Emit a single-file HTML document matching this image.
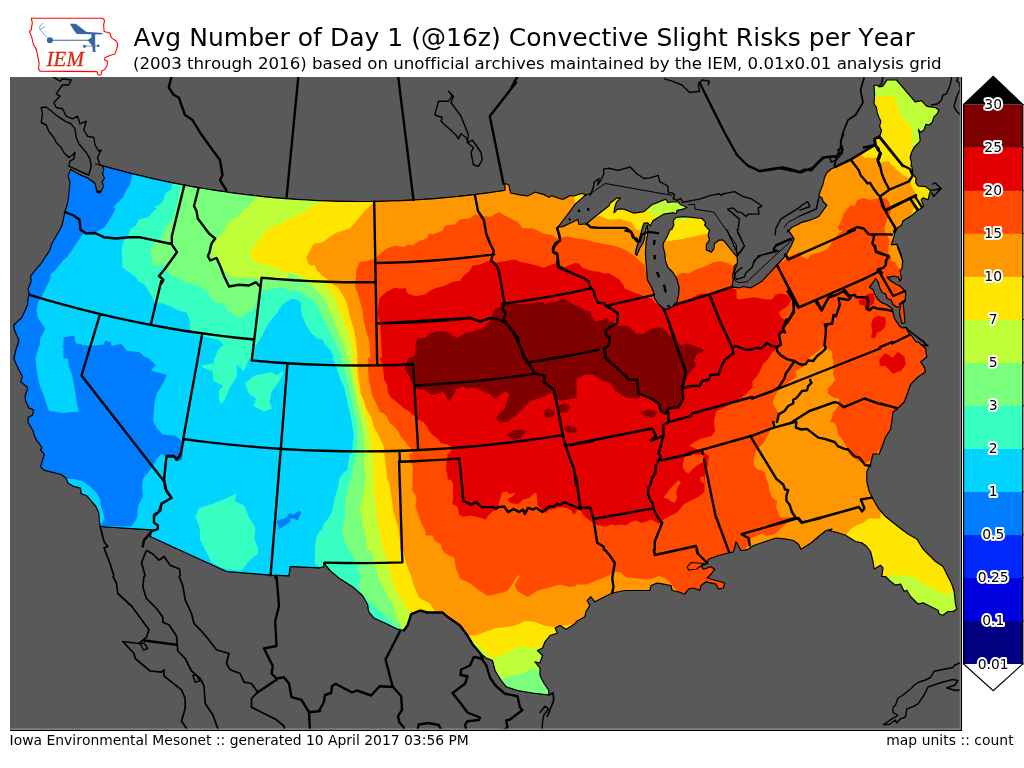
<!DOCTYPE html>
<html lang="en">
<head>
<meta charset="utf-8">
<title>Avg Number of Day 1 (@16z) Convective Slight Risks per Year</title>
<style>
html,body{margin:0;padding:0;background:#fff;}
body{width:1024px;height:768px;overflow:hidden;position:relative;font-family:"DejaVu Sans","Liberation Sans",sans-serif;}
svg{position:absolute;left:0;top:0;display:block;}
text{font-family:"DejaVu Sans","Liberation Sans",sans-serif;fill:#000;font-kerning:none;font-variant-ligatures:none;}
.title{font-size:25px;}
.sub{font-size:16.67px;}
.foot{font-size:13.89px;}
.cbl{font-size:13.89px;text-anchor:middle;paint-order:stroke;stroke:#fff;stroke-width:4px;stroke-linejoin:round;}
.iem{font-family:"Liberation Serif","DejaVu Serif",serif;font-style:italic;font-size:21px;fill:#d62a14;stroke:#d62a14;stroke-width:0.3px;}
.n{fill:none;stroke:#000;stroke-width:1;stroke-linejoin:round;}
.d{fill:none;stroke:#000;stroke-width:2.4;stroke-linecap:butt;}
.b{fill:none;stroke:#000;stroke-width:2.4;stroke-linejoin:round;stroke-linecap:round;}
.c{fill:none;stroke:#000;stroke-width:1.4;stroke-linejoin:round;stroke-linecap:round;}
.m{fill:none;stroke:#000;stroke-width:1.7;stroke-linejoin:round;}
.t{fill:none;stroke:#000;stroke-width:1.1;stroke-linejoin:round;}
.us{fill:none;stroke:#000;stroke-width:1.2;stroke-linejoin:round;}
.lake{fill:#595959;stroke:#000;stroke-width:1;stroke-linejoin:round;}
</style>
</head>
<body>
<svg width="1024" height="768" viewBox="0 0 1024 768">
<rect x="0" y="0" width="1024" height="768" fill="#fff"/>

<defs><clipPath id="axclip"><rect x="10" y="76.9" width="950.6" height="652.6"/></clipPath>
<clipPath id="out"><path clip-rule="evenodd" d="M0 60 H1030 V740 H0 Z M102.8 165.8 L112.7 168.6 L122.7 171.2 L132.7 173.8 L142.8 176.2 L152.9 178.6 L163 180.8 L173.1 182.9 L183.3 184.9 L193.5 186.8 L203.8 188.5 L214 190.2 L224.3 191.7 L234.6 193.2 L244.9 194.5 L255.2 195.7 L265.6 196.8 L276 197.8 L286.3 198.6 L296.7 199.4 L307.1 200 L317.5 200.6 L328 201 L338.4 201.3 L348.8 201.4 L359.2 201.5 L369.7 201.5 L380.1 201.3 L390.5 201 L400.9 200.6 L411.3 200.1 L421.7 199.5 L432.1 198.8 L442.5 197.9 L452.9 197 L463.2 195.9 L473.6 194.7 L483.9 193.4 L494.2 192 L504.5 190.5 L505 189.8 L505 183.5 L508.8 184.8 L510.5 193 L520 194.8 L527.5 196 L535 192.2 L545 194.8 L544 194.8 L549 197.2 L551.5 195.8 L560.2 198.8 L564 199.1 L570.2 195.4 L574 196 L581.5 193.5 L585.9 194.8 L575.2 204.1 L566.5 216 L557.8 227.2 L562.8 226.6 L577.8 219.5 L579 224.5 L586.5 223.8 L594 217.5 L609 205.8 L610.2 202.9 L616.5 198.2 L620.5 198.2 L616.5 202.2 L614.6 207.9 L614 212.9 L617.8 208.8 L624 209.1 L634 213.2 L644 211.6 L651.5 205 L665.9 199.1 L667.8 202.5 L672 202 L672 202 L678.2 202 L680.8 204.8 L687 207.2 L683.2 209.1 L677 210.4 L676.4 213.5 L672 212.5 L672 212.9 L664 214.1 L656.5 218.5 L652.8 221 L650.2 226 L647.8 222.9 L644 223.2 L642.1 228.5 L640.2 237.2 L637.1 246 L635.2 253.5 L636.8 255.4 L639.6 248.5 L642.8 243.5 L644.6 237.9 L645.5 231 L647.2 225.4 L648 232.2 L646.2 241 L645.5 251 L645.5 255 L646.1 263.8 L646.8 271.2 L647.4 280 L651.1 286.2 L653.6 292.5 L654.9 298.8 L658 303.8 L663.6 308.8 L668 309.4 L673 306.2 L676.8 302.5 L678.6 295 L679.2 287.5 L676.8 278.8 L673 272.5 L668 267.5 L665.5 261.2 L664.9 253.8 L663 246.2 L663.6 242.5 L666.8 237.5 L669.9 230 L672 229.1 L673.9 224.8 L673.2 221 L675.8 217.5 L675.8 217.5 L684.5 216.6 L702 218.5 L705.8 222.9 L704.5 224.8 L708.9 229.8 L709.5 230 L708.2 235 L709.5 240 L706.4 244.4 L706.4 250 L711.4 252.2 L713.9 248.8 L714.5 243.8 L719.5 239.8 L723.2 240.2 L728.2 246.2 L733.2 252.5 L737 256.9 L737.6 263.1 L734.5 265.6 L733.9 271.2 L732.6 275 L733.2 280 L732 286.9 L732 286.9 L739.5 287.8 L743.2 286.5 L750.8 287.8 L762 281.2 L769.5 273.1 L777 265 L784.5 256.9 L786 255 L791 246.2 L794.1 238.8 L791 233.8 L787.9 230 L787.6 232.2 L792 227.2 L800 223.5 L800 222.8 L810 220.2 L818.8 216.5 L826.9 205.2 L823.1 201.5 L821.9 197.8 L818.8 195.9 L820.6 190.2 L823.1 184 L824.4 177.8 L826.9 172.8 L831.2 169 L835 167.1 L850.6 159.6 L875 145 L874.4 139.6 L876.2 137.8 L880 136.5 L875.9 138.1 L880.2 135 L881.5 130.6 L879.6 126.2 L880.9 121.2 L879 117.5 L877.1 112.5 L876.5 107.5 L874 103.8 L874.6 95 L874 85.6 L876.5 85 L879.6 86.9 L882.8 86.2 L887.1 80 L896.5 80 L915.2 101.9 L921.5 100.6 L926.5 106.2 L930.2 106.9 L935.2 107.5 L939 110 L937.1 113.8 L934 116.9 L932.1 122.5 L929 125 L925.9 124.4 L924 130 L920.2 132.5 L918.4 129.4 L919.6 135 L920.2 141.2 L916.5 145 L914 147.5 L911.5 152.5 L910.2 157.5 L911.5 162.5 L910.9 166 L911.8 166 L913 174.8 L916.1 177.9 L915.5 182.2 L918 186 L925.5 186.6 L930.5 190.4 L929.2 194.8 L928 199.8 L923 197.9 L921.1 199.8 L923.6 206 L919.9 209.1 L916.8 211 L911.8 215.4 L906.8 218.5 L903 221 L901.8 224.8 L896.8 228.5 L894.9 232.2 L894.2 236 L893 239.8 L891.1 244.8 L896.8 244.1 L898 248.5 L900.5 254.8 L903 262 L897.6 246 L900.8 253.5 L902.6 261 L902 268.5 L900.1 271 L901.4 278.5 L900.1 281.2 L898.2 277 L894.5 276 L889.5 277.2 L887 277 L890.8 281 L895.8 284.1 L900.1 286 L903.2 289.1 L905.8 293.5 L905.1 299.8 L903.2 303.5 L903.9 311 L904.5 317.2 L905.1 322.5 L902 323.5 L900.1 316 L899.5 311 L900.8 306 L897 307.2 L893.2 304.8 L890.8 299.8 L887 298.5 L885.8 294.1 L882 292.2 L879.5 287.2 L878.2 282.2 L875.8 278.5 L873.2 282.2 L869.5 287.2 L873.2 289.8 L875.1 294.8 L878.2 299.8 L882 302.9 L887 304.8 L892 308.5 L893.2 313.5 L894.5 318.5 L897 322.2 L899.5 326 L902 327.9 L905.8 327.5 L908.2 332.2 L912 336 L915.8 342 L918 342 L925.5 348.2 L926.8 357 L920.5 362 L924.2 367 L925.5 372 L918 377 L910.5 384.5 L908 392 L904.2 402 L898 408.2 L893 412 L891.8 422 L890.5 429.5 L885.5 437 L883 444.5 L879.2 454 L873 454 L870.5 464 L866.8 471.5 L866.8 481.5 L869.2 491.5 L873 499 L878 507.8 L885.5 516.5 L898 526.5 L908 534 L916.8 539 L923 549 L935.5 561.5 L943 566.5 L948 576.5 L951.8 584 L954.2 591.5 L955.5 604 L956.8 609 L953 611.5 L948 611.5 L943 615.2 L939.2 614 L938 610.2 L930.5 606.5 L923 602.8 L918 604 L910.5 596.5 L906.8 590.2 L904.2 591.5 L900.5 584 L895.5 585.2 L890.5 581.5 L885.5 576.5 L881.8 576.5 L883 567.8 L880.5 565.2 L874.2 569 L873 561.5 L870.5 551.5 L866.8 546.5 L861.8 542.8 L855.5 541.5 L845.5 535.2 L838 532.8 L828 530.2 L832 529.2 L826 530.5 L819.8 535.5 L811 543 L801 549.2 L798.5 544.2 L793.5 540.5 L786 539.2 L776 538 L768.5 540.5 L761 543 L753.5 545.5 L748.5 549.2 L743.5 550.5 L741 550.5 L736 541.8 L733.5 551.8 L728.5 553 L718.5 555.5 L708.5 559.2 L706 564.2 L701 565.5 L703.5 569.2 L711 566.8 L714.8 569.2 L711 574.2 L707.2 578 L716 580.5 L724.8 583 L723.5 588 L718.5 589.2 L716 584.2 L706 581.8 L701 585.5 L699.8 590.5 L693.5 588 L688.5 589.2 L684.8 594.2 L678.5 591.8 L672.2 590.5 L671 585.5 L663.5 584.2 L657.2 583 L651 585.5 L649.8 590.5 L624.8 590.5 L612.2 593 L602.2 598 L594.8 601.8 L591 596.8 L587.2 600.5 L589.8 605.5 L586 611.8 L584.8 616.8 L576 621.8 L576 623 L566.2 629.2 L560 625.5 L555 628 L557.5 633 L550 635.5 L545 641.8 L542.5 648 L537.5 650.5 L542.5 655.5 L540 663 L535 661.8 L540 668 L540 675.5 L543.8 683 L548.8 690.5 L548.8 695 L548.8 695 L532.5 693 L517.5 690.5 L506.2 686.8 L501.2 680.5 L495 670.5 L492.5 660.5 L486.2 658 L480 653 L472.5 644.2 L467.5 635.5 L460 625.5 L447.5 616.8 L442.5 612.5 L427.5 612.5 L420 610.5 L411.2 614.2 L407.5 625.5 L403.8 630.5 L397.5 629.2 L385 623 L373.8 618 L368.8 611.8 L367.5 604.2 L362.5 595.5 L352.5 586.8 L338.8 578 L330 570.5 L323.8 563 L323.8 566.8 L320 567.5 L320 567.8 L290.2 566.5 L289 575.8 L271.5 575.2 L226.5 571.5 L150.2 536.5 L151.5 531.5 L155.2 530.2 L100.2 526.5 L100 526.4 L99.4 520.8 L98.8 513.2 L96.2 507 L91.2 500.8 L86.9 495.8 L81.2 493.9 L80.6 488.2 L73.8 486.4 L68.1 483.2 L66.2 478.2 L61.2 474.5 L43.8 470.1 L40.6 466.4 L44.4 454.5 L40.6 450.1 L41.9 447.6 L38.1 442 L37.5 442 L34.4 436 L33.1 431 L28.1 422.2 L28.1 417.2 L32.5 415.4 L33.5 409.8 L28.8 407.9 L25.6 401 L25 396 L26.9 391 L27.5 387.2 L20.6 381.6 L22.5 376.6 L18.8 369.8 L13.8 358.5 L16.9 346 L17.5 346 L18.8 340 L14.4 330 L13.8 325 L21.9 317.5 L27.5 305 L28.1 297.5 L29.4 294.4 L28.1 288.8 L31.2 281.2 L30.6 276.2 L37.5 267.5 L40 265 L50 250 L51.2 244.8 L61.2 227.2 L62.5 223.5 L65 211.6 L67.5 203.5 L68.5 197.2 L70 182.2 L68.1 176 L70.6 169.1 L75 172.2 L81.2 175.4 L87.5 177.9 L91.9 181 L95 183.5 L96.2 188.5 L96.9 192.2 L100 192.9 L101.9 189.8 L103.8 186 L101.9 182.2 L104.4 178.5 L102.5 173.5 L103.8 169.8 L103.1 166.6Z"/></clipPath>
</defs>
<g id="map" clip-path="url(#axclip)">
<rect x="10" y="76.9" width="950.6" height="652.6" fill="#595959"/>
<g>
<rect x="10.2" y="76.8" width="950.3" height="652.8" fill="#00d4ff"/>
<path fill="#007cff" fill-rule="evenodd" d="M286.7 517.4 L276.4 521.3 L278.8 529 L279.7 529 L290.3 521.9 L290.5 521.2 L289.9 518.6 L295.4 518.6 L295.6 519.9 L296.3 520.3 L298.7 518.9 L299 518.2 L298.7 517.6 L301.6 512.2 L299 510.7 L293.9 514.4 L289 513.3Z M101.6 525.9 L131.8 526.6 L136.9 518.1 L138.1 506.1 L143.1 496.1 L141.9 486 L143.1 478.6 L153 466.2 L156.8 458.7 L161.6 453.9 L166.4 456.3 L173.8 456.4 L176.1 460.9 L176.8 461.3 L181.8 459.8 L183.1 450.9 L181.6 440.7 L175.3 435.7 L162.9 434.4 L156.8 428.3 L153.1 420.9 L154.3 403.6 L156.8 393.6 L163.1 383.6 L166.6 375.4 L166.6 374.7 L150.9 370.8 L155.3 365.3 L155.2 364.2 L147.4 357.6 L145.6 357.4 L139.1 352 L126.7 350.7 L121.5 343.7 L111.7 346.1 L110.4 342 L105.5 340.7 L104.8 341.2 L103.7 344.4 L89 346.1 L75.6 343.2 L74.4 336.3 L73.9 335.8 L63.6 337.2 L63.4 345.4 L62.3 345.8 L63.4 348.3 L63.4 358 L64.1 358.6 L68 358.6 L68.7 366.1 L72.4 376.1 L78.6 411.9 L71.4 411.9 L64.6 412.9 L64.2 412.6 L62.5 413.1 L49 410.7 L46.6 404.6 L44.1 395.9 L40.3 387.1 L37.8 377.2 L35.4 358.5 L38.8 346.6 L39.7 346 L40.3 337.6 L42.8 333.9 L45.3 328.8 L37.8 317.4 L36.6 310 L37.8 302.6 L42.2 295.8 L50.3 278.9 L50.4 273.9 L55.3 270.2 L63.8 259.6 L64.7 259.5 L67.8 256.2 L82.7 234.3 L91.6 233.8 L97.6 231.3 L104.2 227.5 L108 222.5 L115.4 209.4 L115.2 208.6 L113.3 207.2 L116.8 203.2 L123 197.5 L125.6 191.2 L129.8 184.9 L132.3 174.8 L132.3 167.5 L124.1 165.4 L96.8 165.4 L97.6 169.4 L96.5 173.9 L97.6 177.9 L90.4 172.6 L83.7 169.9 L78.1 167.1 L75.7 165.4 L65.9 165.4 L62.2 175 L62.2 177.2 L63.9 182.8 L62.5 196.5 L61.6 202.1 L59.3 209.9 L55.7 224.8 L45.8 242.3 L44.4 247.6 L35.3 261.2 L32.8 263.8 L25.3 273.5 L24.6 275.8 L25.1 280.4 L22.1 288.2 L23.1 293.9 L22.2 296.4 L21.6 303.5 L16.9 313.9 L9.3 321 L7.9 323.5 L7.8 325.2 L8.5 331.3 L12.5 340.7 L11.1 344.5 L7.9 357 L7.8 359.3 L13.3 372.2 L15.9 377.1 L14.6 381.2 L15.1 384 L16.4 385.9 L21 389.7 L19 395.6 L19.7 401.7 L23.3 410.4 L24.7 412.3 L23.1 413.9 L22.2 416.1 L22.4 424.1 L27.5 433.3 L28.8 438.1 L32.2 444.8 L35 448.1 L34.6 450.3 L34.9 452 L37.6 455.9 L34.8 465.1 L34.7 467.5 L35.3 469.2 L39.6 474.4 L41.7 475.8 L56.1 479.4 L66.9 478.6 L74.9 479.2 L82.4 481.1 L89.8 486 L97.2 493.5 L100.4 499.8 L100.4 504.6 L104.6 517.5 L101.6 524.6 L101.2 524.2 L94 526.8 L94.3 528.2 L95.4 530.3 L96.8 531.4 L98.7 532.3 L101.6 532.6Z"/>
<path fill="#36ffc1" fill-rule="evenodd" d="M123.8 240.7 L121.7 248.5 L122.5 267.4 L135 276.3 L138.8 281.3 L145 285 L155 302.4 L163.9 303.8 L171.4 306.8 L177.6 310.1 L186.3 312.5 L189.2 318.6 L189.9 328.1 L191.8 333.2 L218.8 340.1 L223.5 344.8 L217.4 350.9 L215.2 357.4 L214.2 358 L213.7 363.2 L201.7 365.4 L201.1 366.1 L201.6 366.9 L212.4 371.2 L213.8 381.2 L223.4 386.1 L218.7 391 L219.8 402.8 L220.4 403.5 L224.3 401.1 L229.3 388.7 L236.8 376.2 L236.8 364.3 L243.3 370.8 L244.1 371 L249.3 358.6 L254.7 358.3 L254.4 348.6 L261.8 336.2 L266.8 326.2 L271.8 318.7 L276.8 313.7 L281.8 305 L288.6 300.6 L293 298.6 L297.8 299.8 L301.4 303.4 L300.8 309.5 L302 315.8 L306.5 325.9 L311.6 333.6 L317.8 338.5 L322.8 339.8 L325.2 344.7 L330.2 349.7 L333.5 357.4 L332.8 357.7 L332.6 358.5 L335.9 365.6 L340.3 379.4 L344 386.9 L351.5 420.6 L354 435.5 L352.8 443 L352.2 453.4 L350.7 453.4 L350.1 454 L348.4 461.5 L347.8 470.1 L342.3 473.8 L339.1 478.8 L338.4 486.4 L334.7 497.6 L332.8 507.7 L330.9 513.9 L327.2 520 L323.5 523.8 L322.2 530 L319.6 530.6 L319.4 531.7 L316.2 536.5 L314.9 549 L314.9 563.8 L315.3 564.4 L319.4 566 L319.4 573.7 L324.1 572.8 L326.1 575.1 L334.8 582.6 L348.9 591.6 L357.8 599.4 L361.8 606.3 L363.4 614.5 L369.9 622.6 L395.3 634.8 L403.2 636.5 L405 636.4 L407.2 635.4 L412.7 628.6 L416.1 618.7 L420.5 616.8 L427 618.5 L440.3 618.5 L444.1 621.7 L455.8 629.9 L462.5 638.8 L467.6 647.7 L475.4 656.9 L483 663 L487.4 664.9 L489.9 673.7 L496.6 684.2 L501.9 690.9 L503.8 692.2 L516.1 696.3 L531.8 699 L548.6 701 L551 700.6 L552.9 699.3 L554.6 696.2 L554.6 689.3 L553.7 687.2 L548.9 680 L546 674.1 L546 667.4 L545.4 665.5 L548.5 656.2 L548.3 653.8 L547.2 651.7 L550.2 644.8 L553.6 640.6 L561 637.9 L562.3 636.6 L563.3 634.5 L566 635.2 L569 634.6 L579.7 627.7 L581.4 625.6 L588.7 621.3 L590.4 618.8 L591.6 614.1 L595.3 607.7 L597.4 607.1 L614.2 598.7 L625.3 596.5 L651.4 596.3 L654.3 594.4 L655.4 592.5 L656.1 589.9 L657.8 589.2 L666.1 590.8 L667.1 593.7 L669.3 595.8 L676.8 597.5 L684.3 600.2 L686.7 599.9 L688.3 599.1 L692 594.6 L693.1 594.3 L698.7 596.4 L701.1 596.4 L702.7 595.7 L704.9 593.6 L706.3 589 L707.3 588.3 L711.9 589.4 L713.7 592.9 L716.5 594.9 L719.4 595.2 L725.5 593.7 L727.5 592.4 L729.2 590 L730.7 583.9 L730.4 581 L729.3 579.1 L727.5 577.7 L718.1 574.8 L720.4 571.3 L720.6 568 L719.4 565.4 L716 562.9 L720.3 561.2 L735.5 557.4 L738 555.7 L740.4 556.5 L744.2 556.5 L750.5 554.9 L756.3 550.9 L776.6 544.1 L791.1 546.2 L793.8 548.2 L795.9 552.4 L797.1 553.8 L799.1 554.9 L801.4 555.2 L804.2 554.3 L814.6 547.8 L828.1 536.5 L842.9 540.7 L852.8 546.9 L859.2 548.4 L862.5 550.8 L865 554.1 L867.1 562.7 L868.5 570.6 L869.9 573.1 L872.8 574.8 L875.9 574.8 L876.1 578.6 L878.3 581.4 L880.5 582.4 L883 582.5 L886.9 586.3 L892.9 590.7 L895.2 591.2 L897.3 591 L899.9 595.6 L901.8 597 L904.1 597.5 L906.3 600.7 L914.7 609 L918.2 610 L922.3 609.1 L933.1 614.5 L934.4 617.5 L936.2 619.2 L942.8 621.2 L945.6 620.7 L950 617.5 L953.6 617.5 L955.8 616.8 L960.5 613.7 L962.2 611.4 L962.7 608.1 L961.4 603 L959.9 589.6 L957.1 581.3 L948.1 563.3 L946.3 561.5 L939.3 556.8 L927.7 545.2 L920.7 534.5 L911.3 529 L889.7 512.2 L882.9 504.3 L878.3 496.2 L874.9 489.4 L872.8 480.8 L872.8 472.9 L876.1 466.1 L877.7 460 L881.6 459.5 L884.3 457.3 L890.9 439.7 L896.1 431.7 L898.6 415.3 L902.2 412.5 L909.3 405.2 L915.7 387.7 L921.8 381.7 L929.3 376.7 L931 374.4 L931.4 371.1 L929.9 365 L928.8 363.1 L931.7 360.5 L932.7 357.3 L931.4 347.4 L930.6 345.1 L921.8 337.4 L919.1 336.1 L916.7 332.3 L913.1 328.7 L910.8 324.3 L911.1 321.8 L909.4 304.7 L911 300.9 L911.7 292.9 L911.2 291.1 L908.5 286.1 L905.8 283.2 L907.3 279.3 L906.5 272.5 L907.9 269.6 L908.6 260.2 L906.4 251.6 L903.2 243.7 L901.4 240.4 L899.6 238.9 L900.6 234.1 L901.5 232.5 L906.2 228.7 L908 224.9 L915.3 220.2 L920.3 215.9 L923.3 214 L927.5 210.6 L929.2 208.3 L929.6 205.5 L932 204.2 L933.6 201.8 L936.4 191.4 L936.2 188.5 L934.6 186 L928.6 181.5 L926.6 180.7 L921.8 180.3 L922.1 177.5 L921.7 175.7 L918.7 171.9 L917.4 163.9 L917.4 161.7 L916.4 157.5 L917.2 154.6 L918.9 151.1 L924.5 145.5 L925.8 143.5 L926.2 141.2 L925.8 136 L928.6 133.9 L930 130.9 L932.3 130 L937 125.9 L939.2 120.1 L942.2 117 L944.4 112.7 L945 109.3 L944.5 107.6 L943.2 105.7 L938.1 102.2 L929.6 100.7 L925.6 96.2 L923.7 95 L921.5 94.6 L917.5 95.3 L901.1 76.1 L898.7 74.4 L896.5 74 L885.4 74.2 L883 75.7 L879.8 80 L878 79.2 L875.6 79.1 L871.4 80.2 L869.2 82.1 L868 85.4 L868.6 95 L868 104.5 L868.7 106.6 L870.7 109.6 L871.3 113.9 L874.5 121.9 L873.6 126.5 L875.1 131.3 L872.4 133.1 L869.4 136.3 L868.5 138.5 L868.6 141.8 L847.8 154.3 L827.9 164 L822.1 169.1 L818.8 175.6 L817.3 182.3 L812.8 195.1 L812.8 196.8 L813.6 199 L814.7 200.3 L816.9 201.8 L817.9 204.4 L819 205.9 L814.9 211.6 L808.1 214.5 L797.5 217.3 L795.2 219.1 L788.9 222.1 L787.5 223.3 L783.5 228 L782.7 230.9 L783.4 233.8 L787.4 239.3 L785.6 243.6 L781 251.6 L758.2 276.5 L749.6 281.5 L743.1 280.5 L739.1 281.6 L738.7 275.6 L739.7 272.5 L740.2 268.8 L742.6 266.5 L743.6 263.7 L742.9 255.7 L741.6 253 L726.6 235.3 L724.6 234.4 L719.1 233.8 L716.8 234.4 L714.7 235.9 L714.4 235 L715.5 230.3 L715.2 228.1 L714 226.1 L711.7 223.8 L711.6 221.6 L710.7 219.4 L706.6 214.6 L704.8 213.2 L703.2 212.6 L691.4 211.3 L692.5 209.6 L693 207.9 L692.9 206.1 L692 203.9 L689.8 201.9 L684.3 199.7 L680.7 196.5 L678.2 196 L671 196.1 L669.6 194.4 L668.1 193.6 L664.7 193.2 L648.6 199.7 L641.3 206 L634.7 207.1 L626.3 203.6 L624.1 203.1 L625.8 201.1 L626.5 198.2 L626 196 L624.3 193.6 L621.1 192.3 L615.2 192.4 L612.9 193.4 L606.7 198.1 L605.4 199.4 L604.1 202 L583.6 218 L582.2 215.5 L580.3 214.1 L578 213.5 L575.5 214 L579.7 208.2 L589.8 199.2 L591.3 197.4 L591.9 195.2 L591.6 192.9 L590.4 190.8 L588.6 189.4 L583.1 187.7 L580.8 187.5 L573.5 189.8 L570.6 189.4 L568.3 189.7 L562.6 193 L552.9 189.9 L551.2 189.8 L549 190.3 L546.5 188.9 L535.3 186.3 L532.9 186.6 L526.6 189.8 L515.5 187.8 L514.5 183 L513 180.5 L510.6 179.1 L505.1 177.5 L502.3 178.2 L500.4 179.6 L499.1 182.3 L499 185.2 L472.9 188.8 L442 192 L411 194.1 L380 195.3 L359.2 195.5 L317.8 194.6 L297.1 193.4 L266.2 190.8 L245.6 188.5 L214.9 184.3 L172.4 176.6 L172.4 183.5 L171.2 189.5 L165.8 193.3 L163.7 199.6 L160 204.5 L155.4 206.2 L155.2 207 L156.5 208.9 L151.8 212.7 L148.8 216.9 L138.8 219.6 L136.2 225.8 L130.7 228.8 L127.5 237.1Z M667.4 219.7 L667.7 224 L664.6 227.2 L661.4 234.7 L658.2 239.8 L657 246.5 L658.9 254.7 L659.9 263.5 L663 270.8 L668.2 276.2 L671.2 281.2 L673.2 288.1 L672.7 294 L671.3 299.4 L669.2 301.5 L666.7 303.1 L662.6 299.8 L660.5 296.5 L659.2 290.3 L656.5 283.6 L653.3 278.1 L651.5 251.2 L652.2 241.8 L653.9 233.4 L653.9 230.8 L655.3 229.2 L657.4 225.1 L666 219.9Z M248.9 393.8 L256.1 398.6 L253.8 405.6 L254.1 406.4 L263.9 411.3 L271.3 408.9 L271.7 408 L269.4 401 L271.8 391.2 L279.3 381.2 L283.6 372.7 L283.5 371.9 L282.5 371.6 L276.5 375.6 L271.4 371.9 L253.8 375.8 L245 383.4Z M199.9 529.1 L199.9 539.2 L211.1 561.5 L218.9 566.8 L229 569.8 L241.5 570.5 L250.5 559.3 L258 554.1 L258.1 548.9 L254.4 539 L255.5 527.6 L248.9 517.4 L244.3 505.8 L234.4 500.8 L236.5 494.5 L236 493.7 L226.4 498.2 L213.9 503.2 L198.8 508.3 L195.2 517.8 L195.6 518.5 L196.4 518.6Z"/>
<path fill="#7aff7d" fill-rule="evenodd" d="M151.3 263 L151.8 263.9 L158.9 265.8 L163.8 265.1 L171.4 276.8 L178.8 277.6 L183.9 282.5 L191.4 283.8 L198.9 286.3 L206.2 290 L211.3 298.8 L216.4 302.6 L223.8 303.8 L228.8 311.3 L240 318.7 L240.7 318.4 L244.2 313.8 L251.8 311.1 L255.6 304.9 L261.7 291.3 L271.6 288.8 L281.5 287.6 L287.4 289.1 L287.5 290.4 L288.2 290.9 L294.2 289.2 L300.3 292.3 L314 301 L318.9 307.2 L320.2 312.2 L323.9 318.4 L327.7 327.2 L331.4 333.4 L333.9 339.7 L337.7 347.1 L341.1 357.4 L340.6 358.4 L345.3 373.1 L349 388.1 L356.5 423 L357.8 439.2 L355.9 453.7 L350.9 478.9 L348.4 486.4 L346.5 494 L345.3 501.4 L344.7 508.9 L345.3 516.5 L343.4 523.9 L342.2 531.5 L343.5 539.2 L357.2 565.6 L360.9 578 L358.5 585.8 L363.5 595.8 L403.5 633.2 L405.9 636.1 L408.2 634.6 L412.7 628.6 L416.1 618.7 L420.5 616.8 L427 618.5 L440.3 618.5 L444.1 621.7 L455.8 629.9 L462.5 638.8 L467.6 647.7 L475.4 656.9 L483 663 L487.4 664.9 L489.9 673.7 L496.6 684.2 L501.9 690.9 L503.8 692.2 L516.1 696.3 L531.8 699 L548.6 701 L551 700.6 L552.9 699.3 L554.6 696.2 L554.6 689.3 L553.7 687.2 L548.9 680 L546 674.1 L546 667.4 L545.4 665.5 L548.5 656.2 L548.3 653.8 L547.2 651.7 L550.2 644.8 L553.6 640.6 L561 637.9 L562.3 636.6 L563.3 634.5 L566 635.2 L569 634.6 L579.7 627.7 L581.4 625.6 L588.7 621.3 L590.4 618.8 L591.6 614.1 L595.3 607.7 L597.4 607.1 L614.2 598.7 L625.3 596.5 L651.4 596.3 L654.3 594.4 L655.4 592.5 L656.1 589.9 L657.8 589.2 L666.1 590.8 L667.1 593.7 L669.3 595.8 L676.8 597.5 L684.3 600.2 L686.7 599.9 L688.3 599.1 L692 594.6 L693.1 594.3 L698.7 596.4 L701.1 596.4 L702.7 595.7 L704.9 593.6 L706.3 589 L707.3 588.3 L711.9 589.4 L713.7 592.9 L716.5 594.9 L719.4 595.2 L725.5 593.7 L727.5 592.4 L729.2 590 L730.7 583.9 L730.4 581 L729.3 579.1 L727.5 577.7 L718.1 574.8 L720.4 571.3 L720.6 568 L719.4 565.4 L716 562.9 L720.3 561.2 L735.5 557.4 L738 555.7 L740.4 556.5 L744.2 556.5 L750.5 554.9 L756.3 550.9 L776.6 544.1 L791.1 546.2 L793.8 548.2 L795.9 552.4 L797.1 553.8 L799.1 554.9 L801.4 555.2 L804.2 554.3 L814.6 547.8 L828.1 536.5 L842.9 540.7 L852.8 546.9 L859.2 548.4 L862.5 550.8 L865 554.1 L867.1 562.7 L868.5 570.6 L869.9 573.1 L872.8 574.8 L875.9 574.8 L876.1 578.6 L878.3 581.4 L880.5 582.4 L883 582.5 L886.9 586.3 L892.9 590.7 L895.2 591.2 L897.3 591 L899.9 595.6 L901.8 597 L904.1 597.5 L906.3 600.7 L914.7 609 L918.2 610 L922.3 609.1 L933.1 614.5 L934.4 617.5 L936.2 619.2 L942.8 621.2 L945.6 620.7 L950 617.5 L953.6 617.5 L955.8 616.8 L960.5 613.7 L962.2 611.4 L962.7 608.1 L961.4 603 L959.9 589.6 L957.1 581.3 L948.1 563.3 L946.3 561.5 L939.3 556.8 L927.7 545.2 L920.7 534.5 L911.3 529 L889.7 512.2 L882.9 504.3 L878.3 496.2 L874.9 489.4 L872.8 480.8 L872.8 472.9 L876.1 466.1 L877.7 460 L881.6 459.5 L884.3 457.3 L890.9 439.7 L896.1 431.7 L898.6 415.3 L902.2 412.5 L909.3 405.2 L915.7 387.7 L921.8 381.7 L929.3 376.7 L931 374.4 L931.4 371.1 L929.9 365 L928.8 363.1 L931.7 360.5 L932.7 357.3 L931.4 347.4 L930.6 345.1 L921.8 337.4 L919.1 336.1 L916.7 332.3 L913.1 328.7 L910.8 324.3 L911.1 321.8 L909.4 304.7 L911 300.9 L911.7 292.9 L911.2 291.1 L908.5 286.1 L905.8 283.2 L907.3 279.3 L906.5 272.5 L907.9 269.6 L908.6 260.2 L906.4 251.6 L903.2 243.7 L901.4 240.4 L899.6 238.9 L900.6 234.1 L901.5 232.5 L906.2 228.7 L908 224.9 L915.3 220.2 L920.3 215.9 L923.3 214 L927.5 210.6 L929.2 208.3 L929.6 205.5 L932 204.2 L933.6 201.8 L936.4 191.4 L936.2 188.5 L934.6 186 L928.6 181.5 L926.6 180.7 L921.8 180.3 L922.1 177.5 L921.7 175.7 L918.7 171.9 L917.4 163.9 L917.4 161.7 L916.4 157.5 L917.2 154.6 L918.9 151.1 L924.5 145.5 L925.8 143.5 L926.2 141.2 L925.8 136 L928.6 133.9 L930 130.9 L932.3 130 L937 125.9 L939.2 120.1 L942.2 117 L944.4 112.7 L945 109.3 L944.5 107.6 L943.2 105.7 L938.1 102.2 L929.6 100.7 L925.6 96.2 L923.7 95 L921.5 94.6 L917.5 95.3 L901.1 76.1 L898.7 74.4 L896.5 74 L885.4 74.2 L883 75.7 L879.8 80 L878 79.2 L875.6 79.1 L871.4 80.2 L869.2 82.1 L868 85.4 L868.6 95 L868 104.5 L868.7 106.6 L870.7 109.6 L871.3 113.9 L874.5 121.9 L873.6 126.5 L875.1 131.3 L872.4 133.1 L869.4 136.3 L868.5 138.5 L868.6 141.8 L847.8 154.3 L827.9 164 L822.1 169.1 L818.8 175.6 L817.3 182.3 L812.8 195.1 L812.8 196.8 L813.6 199 L814.7 200.3 L816.9 201.8 L817.9 204.4 L819 205.9 L814.9 211.6 L808.1 214.5 L797.5 217.3 L795.2 219.1 L788.9 222.1 L787.5 223.3 L783.5 228 L782.7 230.9 L783.4 233.8 L787.4 239.3 L785.6 243.6 L781 251.6 L758.2 276.5 L749.6 281.5 L743.1 280.5 L739.1 281.6 L738.7 275.6 L739.7 272.5 L740.2 268.8 L742.6 266.5 L743.6 263.7 L742.9 255.7 L741.6 253 L726.6 235.3 L724.6 234.4 L719.1 233.8 L716.8 234.4 L714.7 235.9 L714.4 235 L715.5 230.3 L715.2 228.1 L714 226.1 L711.7 223.8 L711.6 221.6 L710.7 219.4 L706.6 214.6 L704.8 213.2 L703.2 212.6 L691.4 211.3 L692.5 209.6 L693 207.9 L692.9 206.1 L692 203.9 L689.8 201.9 L684.3 199.7 L680.7 196.5 L678.2 196 L671 196.1 L669.6 194.4 L668.1 193.6 L664.7 193.2 L648.6 199.7 L641.3 206 L634.7 207.1 L626.3 203.6 L624.1 203.1 L625.8 201.1 L626.5 198.2 L626 196 L624.3 193.6 L621.1 192.3 L615.2 192.4 L612.9 193.4 L606.7 198.1 L605.4 199.4 L604.1 202 L583.6 218 L582.2 215.5 L580.3 214.1 L578 213.5 L575.5 214 L579.7 208.2 L589.8 199.2 L591.3 197.4 L591.9 195.2 L591.6 192.9 L590.4 190.8 L588.6 189.4 L583.1 187.7 L580.8 187.5 L573.5 189.8 L570.6 189.4 L568.3 189.7 L562.6 193 L552.9 189.9 L551.2 189.8 L549 190.3 L546.5 188.9 L535.3 186.3 L532.9 186.6 L526.6 189.8 L515.5 187.8 L514.5 183 L513 180.5 L510.6 179.1 L505.1 177.5 L502.3 178.2 L500.4 179.6 L499.1 182.3 L499 185.2 L472.9 188.8 L442 192 L411 194.1 L380 195.3 L359.2 195.5 L317.8 194.6 L297.1 193.4 L266.2 190.8 L225.1 185.8 L181.2 178.3 L181.2 184.7 L173.7 218.3 L168.8 224.5 L163.7 228.3 L162.4 235.9 L160 240.7 L151.7 244.7 L150.7 252.3 L152.4 258.5Z M667.4 219.7 L667.7 224 L664.6 227.2 L661.4 234.7 L658.2 239.8 L657 246.5 L658.9 254.7 L659.9 263.5 L663 270.8 L668.2 276.2 L671.2 281.2 L673.2 288.1 L672.7 294 L671.3 299.4 L669.2 301.5 L666.7 303.1 L662.6 299.8 L660.5 296.5 L659.2 290.3 L656.5 283.6 L653.3 278.1 L651.5 251.2 L652.2 241.8 L653.9 233.4 L653.9 230.8 L655.3 229.2 L657.4 225.1 L666 219.9Z"/>
<path fill="#beff39" fill-rule="evenodd" d="M223.7 271.1 L230.1 276.3 L239 278.1 L249 276.9 L261.5 278.8 L287.9 280 L288.6 279.3 L288.6 273.6 L295.4 274.8 L310.3 284.8 L317.8 291 L324 298.4 L335.2 322.1 L342.7 342.1 L347.6 358.1 L348.6 358.6 L352.4 380.6 L361.5 421.8 L364 438 L364 461.5 L364.7 470.3 L365.9 477.7 L364 486.4 L363.4 493.9 L361.5 501.4 L360.3 509.1 L361.5 516.5 L362.2 524 L364.7 531.6 L367.7 550 L368.4 550.6 L371.4 550.6 L373.4 555.6 L375.9 568.1 L379.7 580.7 L386 593.2 L393.4 605.6 L397.2 618.2 L403.4 629.3 L404.2 629.4 L413.8 625.7 L416.1 618.7 L420.5 616.8 L426.5 618.4 L432 618.5 L444.9 613.4 L501 679.4 L510.1 675.8 L520.1 674.6 L532.5 668.4 L541.2 670.8 L546 670.5 L546 667.4 L545.4 665.5 L548.5 655.6 L548.3 653.8 L547.2 651.7 L550.2 644.8 L553.6 640.6 L560.5 638.2 L562.3 636.6 L563.3 634.5 L566 635.2 L569 634.6 L579.2 628.1 L581.4 625.6 L587.7 622 L589.5 620.4 L590.4 618.8 L591.6 614.1 L595.3 607.7 L597.4 607.1 L614.2 598.7 L625.3 596.5 L650.9 596.4 L653.9 594.9 L655.2 593 L656.1 589.9 L657.8 589.2 L666.1 590.8 L667.1 593.7 L669.3 595.8 L676.8 597.5 L684.3 600.2 L686.7 599.9 L688.3 599.1 L692 594.6 L693.1 594.3 L698.7 596.4 L701.1 596.4 L702.7 595.7 L704.9 593.6 L706.3 589 L707.3 588.3 L711.9 589.4 L713.7 592.9 L716.5 594.9 L719.4 595.2 L725 593.8 L727.5 592.4 L728.9 590.6 L730.7 583.9 L730.6 581.6 L729.6 579.5 L727.5 577.7 L718.1 574.8 L720.4 571.3 L720.6 568 L719.4 565.4 L716 562.9 L720.3 561.2 L735.5 557.4 L738 555.7 L740.4 556.5 L744.2 556.5 L750.5 554.9 L756.3 550.9 L776.6 544.1 L791.1 546.2 L793.8 548.2 L795.9 552.4 L797.5 554.1 L799.7 555.1 L802.6 555 L814.6 547.8 L828.1 536.5 L842.9 540.7 L852.8 546.9 L859.2 548.4 L862.5 550.8 L865 554.1 L867.1 562.7 L868.5 570.6 L869.9 573.1 L872.8 574.8 L875.9 574.8 L876.1 578.6 L878.3 581.4 L880.5 582.4 L883 582.5 L886.9 586.3 L892.9 590.7 L895.2 591.2 L897.3 591 L899.9 595.6 L901.8 597 L904.1 597.5 L906.3 600.7 L915.2 609.3 L918.2 610 L922.3 609.1 L933.1 614.5 L934.4 617.5 L936.2 619.2 L942.8 621.2 L945.6 620.7 L950 617.5 L953.6 617.5 L955.8 616.8 L960.5 613.7 L962.2 611.4 L962.7 608.1 L961.4 603 L959.9 589.6 L957.1 581.3 L948.1 563.3 L946.3 561.5 L939.3 556.8 L927.7 545.2 L920.7 534.5 L911.3 529 L889.7 512.2 L882.9 504.3 L878.3 496.2 L874.9 489.4 L872.8 480.8 L872.8 472.9 L876.1 466.1 L877.7 460 L881.6 459.5 L884.3 457.3 L890.9 439.7 L896.1 431.7 L898.6 415.3 L902.2 412.5 L909.3 405.2 L915.7 387.7 L921.8 381.7 L929.3 376.7 L931 374.4 L931.4 371.1 L929.9 365 L928.8 363.1 L931.7 360.5 L932.7 357.3 L931.4 347.4 L930.6 345.1 L921.8 337.4 L919.1 336.1 L916.7 332.3 L913.1 328.7 L910.8 324.3 L911.1 321.8 L909.4 304.7 L911 300.9 L911.7 292.9 L911.2 291.1 L908.5 286.1 L905.8 283.2 L907.3 279.3 L906.5 272.5 L907.9 269.6 L908.6 260.2 L906.4 251.6 L903.2 243.7 L901.4 240.4 L899.6 238.9 L900.6 234.1 L901.5 232.5 L906.2 228.7 L908 224.9 L915.3 220.2 L920.3 215.9 L923.3 214 L927.5 210.6 L929.2 208.3 L929.6 205.5 L932 204.2 L933.6 201.8 L936.4 191.4 L936.2 188.5 L934.6 186 L928.6 181.5 L926.6 180.7 L921.8 180.3 L922.1 177.5 L921.7 175.7 L918.7 171.9 L917.4 163.9 L917.4 161.7 L916.4 157.5 L917.2 154.6 L918.9 151.1 L924.5 145.5 L925.8 143.5 L926.2 141.2 L925.8 136 L928.6 133.9 L930 130.9 L932.3 130 L937 125.9 L939.2 120.1 L942.2 117 L944.4 112.7 L945 109.3 L944.5 107.6 L943.2 105.7 L938.1 102.2 L929.6 100.7 L925.6 96.2 L923.7 95 L921.5 94.6 L917.5 95.3 L901.1 76.1 L899.3 74.7 L896.5 74 L885.4 74.2 L883 75.7 L879.8 80 L878 79.2 L875.6 79.1 L871.4 80.2 L869.2 82.1 L868 85.4 L868.6 95 L868 104.5 L868.7 106.6 L870.7 109.6 L871.3 113.9 L874.5 121.9 L873.6 126.5 L875.1 131.3 L872.4 133.1 L869.4 136.3 L868.5 138.5 L868.6 141.8 L847.8 154.3 L827.9 164 L822.1 169.1 L818.8 175.6 L817.3 182.3 L812.8 195.1 L812.8 196.8 L813.6 199 L814.7 200.3 L816.9 201.8 L817.9 204.4 L819 205.9 L814.9 211.6 L808.1 214.5 L797.5 217.3 L795.2 219.1 L788.9 222.1 L787.5 223.3 L783.5 228 L782.7 230.9 L783.4 233.8 L787.4 239.3 L785.6 243.6 L781 251.6 L758.2 276.5 L749.6 281.5 L743.1 280.5 L739.1 281.6 L738.7 275.6 L739.7 272.5 L740.2 268.8 L742.6 266.5 L743.6 263.7 L742.9 255.7 L741.6 253 L726.6 235.3 L724.6 234.4 L719.1 233.8 L716.8 234.4 L714.7 235.9 L714.4 235 L715.5 230.3 L715.2 228.1 L714 226.1 L711.7 223.8 L711.6 221.6 L710.7 219.4 L706.6 214.6 L704.8 213.2 L703.2 212.6 L691.4 211.3 L692.5 209.6 L693 207.9 L692.9 206.1 L692 203.9 L689.8 201.9 L684.3 199.7 L680.7 196.5 L678.2 196 L671 196.1 L669.6 194.4 L668.1 193.6 L664.7 193.2 L648.6 199.7 L641.3 206 L634.7 207.1 L626.3 203.6 L624.1 203.1 L625.8 201.1 L626.5 198.2 L626 196 L624.3 193.6 L621.1 192.3 L615.2 192.4 L612.9 193.4 L606.7 198.1 L605.4 199.4 L604.1 202 L583.6 218 L582.2 215.5 L580.3 214.1 L578 213.5 L575.5 214 L579.7 208.2 L589.8 199.2 L591.3 197.4 L591.9 195.2 L591.6 192.9 L590.4 190.8 L588.6 189.4 L583.1 187.7 L580.8 187.5 L573.5 189.8 L570.6 189.4 L568.3 189.7 L562.6 193 L552.9 189.9 L551.2 189.8 L549 190.3 L546.5 188.9 L535.3 186.3 L532.9 186.6 L526.6 189.8 L515.5 187.8 L514.5 183 L513 180.5 L510.6 179.1 L505.1 177.5 L502.3 178.2 L500.4 179.6 L499.1 182.3 L499 185.2 L452.3 191 L411 194.1 L369.6 195.5 L338.5 195.3 L297.1 193.4 L257.4 189.9 L257.4 195.9 L251.3 203.3 L243.7 209.5 L238.8 215.7 L229.9 221.3 L226.2 225.8 L223.7 233.3 L216.3 238.2 L213.7 243.4 L211.7 251 L213.6 258.5 L218.7 263.2Z M667.4 219.7 L667.7 224 L664.6 227.2 L661.4 234.7 L658.2 239.8 L657 246.5 L658.9 254.7 L659.9 263.5 L663 270.8 L668.2 276.2 L671.2 281.2 L673.2 288.1 L672.7 294 L671.3 299.4 L669.2 301.5 L666.7 303.1 L662.6 299.8 L660.5 296.5 L659.2 290.3 L656.5 283.6 L653.3 278.1 L651.5 251.2 L652.2 241.8 L653.9 233.4 L653.9 230.8 L655.3 229.2 L657.4 225.1 L666 219.9Z"/>
<path fill="#ffe600" fill-rule="evenodd" d="M251.3 249.4 L250 256.1 L256.4 262.6 L268.9 265.6 L276.4 268.8 L287.6 272.9 L288.5 272.4 L288.6 270.6 L300.4 276.1 L312.9 279.5 L322.8 283.5 L329 289.7 L333.9 297.2 L341.4 314.6 L350.2 339.6 L352.7 349.6 L353.8 357.4 L352.8 357.5 L352.5 358.3 L355.3 379.3 L359 394.3 L367.8 424.3 L370.3 439.3 L370.9 446.8 L370.9 453.9 L371.3 454.5 L372.2 454.6 L373.4 470.3 L373.4 479 L375.3 504 L376.5 511.5 L377.2 519.1 L382.7 550 L383.2 550.5 L384.1 550.6 L394.7 588.2 L408.4 610.7 L412.7 615.2 L444.9 613.4 L492.2 658.7 L500.2 655.8 L520 645.9 L530 648.3 L549.6 646.5 L550.2 644.8 L553.6 640.6 L560.5 638.2 L562.3 636.6 L563.3 634.5 L566 635.2 L569 634.6 L579.7 627.7 L581.4 625.6 L588.7 621.3 L590.4 618.8 L591.6 614.1 L595.3 607.7 L597.4 607.1 L614.2 598.7 L625.3 596.5 L650.9 596.4 L653.9 594.9 L655.2 593 L656.1 589.9 L657.8 589.2 L666.1 590.8 L667.1 593.7 L669.3 595.8 L676.8 597.5 L684.3 600.2 L686.7 599.9 L688.3 599.1 L692 594.6 L693.1 594.3 L698.7 596.4 L701.1 596.4 L702.7 595.7 L704.9 593.6 L706.3 589 L707.3 588.3 L711.9 589.4 L713.7 592.9 L716.5 594.9 L719.4 595.2 L725.5 593.7 L727.5 592.4 L729.2 590 L730.7 583.9 L730.4 581 L729.3 579.1 L727.5 577.7 L718.1 574.8 L720.4 571.3 L720.6 568 L719.4 565.4 L716 562.9 L720.3 561.2 L735.5 557.4 L738 555.7 L740.4 556.5 L744.2 556.5 L750.5 554.9 L756.3 550.9 L776.6 544.1 L791.1 546.2 L793.8 548.2 L795.9 552.4 L797.5 554.1 L799.7 555.1 L802.6 555 L814.6 547.8 L828.1 536.5 L842.9 540.7 L852.8 546.9 L859.2 548.4 L862.5 550.8 L865 554.1 L868.9 571.6 L869.9 573.1 L871.7 574.4 L874 575 L875.9 574.8 L875.8 576.9 L876.3 578.9 L884.4 578.8 L893.1 574.4 L912.9 576.8 L920.3 581.8 L945.3 594.8 L954.3 590.6 L960.2 590.5 L957.1 581.3 L947.7 562.8 L939.3 556.8 L927.7 545.2 L920.7 534.5 L911.3 529 L889.7 512.2 L882.9 504.3 L878.3 496.2 L874.9 489.4 L872.8 480.8 L872.8 472.9 L876.1 466.1 L877.7 460 L881.6 459.5 L884.3 457.3 L890.9 439.7 L896.1 431.7 L898.6 415.3 L902.2 412.5 L909.3 405.2 L915.7 387.7 L921.8 381.7 L929.3 376.7 L931 374.4 L931.4 371.1 L929.9 365 L928.8 363.1 L931.7 360.5 L932.7 357.3 L931.4 347.4 L930.6 345.1 L921.8 337.4 L919.1 336.1 L916.7 332.3 L913.1 328.7 L910.8 324.3 L911.1 321.8 L909.4 304.7 L911 300.9 L911.7 292.9 L911.2 291.1 L908.5 286.1 L905.8 283.2 L907.3 279.3 L906.5 272.5 L907.9 269.6 L908.6 260.2 L906.4 251.6 L903.2 243.7 L901.4 240.4 L899.6 238.9 L900.6 234.1 L901.5 232.5 L906.2 228.7 L908 224.9 L915.3 220.2 L928.3 209.8 L929.4 207.8 L929.6 205.5 L932 204.2 L933.6 201.8 L936.4 191.4 L936.5 189.6 L935 186.4 L928.6 181.5 L926.6 180.7 L921.8 180.3 L921.9 176.3 L920.8 174.1 L918.7 171.9 L917.7 165.4 L911.9 165.4 L911.9 148.2 L913.1 144.9 L911.8 128.7 L908 122.3 L903 118.5 L899.3 113.6 L896.8 101.2 L892.9 96 L885.3 95.9 L879.1 96.5 L874.7 94.7 L868.6 94.7 L868.1 105 L870.7 109.6 L871.3 113.9 L874.5 121.9 L873.6 126.5 L875.1 131 L869.4 136.3 L868.5 138.5 L868.6 141.8 L847.8 154.3 L827.9 164 L822.1 169.1 L818.8 175.6 L817.3 182.3 L812.8 195.1 L812.8 196.8 L813.6 199 L814.7 200.3 L816.9 201.8 L817.9 204.4 L819 205.9 L814.9 211.6 L808.1 214.5 L799.4 216.7 L799.4 217.5 L797.1 217.5 L795.2 219.1 L788.9 222.1 L787.5 223.3 L783.5 228 L782.7 230.9 L783.4 233.8 L787.4 239.3 L785.6 243.6 L781 251.6 L758.2 276.5 L749.6 281.5 L743.1 280.5 L739.1 281.6 L738.7 275.6 L739.7 272.5 L740.2 268.8 L742.6 266.5 L743.6 263.7 L742.5 254.5 L726.6 235.3 L724.6 234.4 L719.1 233.8 L716.8 234.4 L714.7 235.9 L714.4 235 L715.5 230.3 L715.2 228.1 L714 226.1 L711.7 223.8 L711.3 220.5 L709.1 217.5 L688.4 217.5 L685.6 219.7 L679.5 220.3 L675.7 219.7 L672.6 220.8 L672.6 212.8 L671.8 212.1 L661.4 213.8 L656.5 216.8 L647 211.5 L649.3 207.5 L651.8 205.1 L651.9 198.4 L648.1 200.1 L641.3 206 L634.7 207.1 L626.3 203.6 L624.1 203.1 L625.8 201.1 L626.5 198.2 L626 196 L624.3 193.6 L621.7 192.4 L616.5 192.2 L613.5 193.1 L606.7 198.1 L605.4 199.4 L604.1 202 L583.6 218 L582.2 215.5 L580.3 214.1 L578 213.5 L575.5 214 L579.7 208.2 L589.8 199.2 L591.3 197.4 L591.9 195.2 L591.6 192.9 L590.4 190.8 L588.6 189.4 L583.1 187.7 L580.8 187.5 L573.5 189.8 L570.6 189.4 L568.3 189.7 L562.6 193 L552.9 189.9 L551.2 189.8 L549 190.3 L546.5 188.9 L535.3 186.3 L532.9 186.6 L526.6 189.8 L515.5 187.8 L514.5 183 L513 180.5 L510.6 179.1 L505.1 177.5 L502.3 178.2 L500.4 179.6 L499.1 182.3 L499 185.2 L472.9 188.8 L442 192 L411 194.1 L380 195.3 L348.9 195.4 L319.4 194.6 L319.4 203.5 L313.8 205.7 L298.9 214.4 L290.1 217.7 L281.3 223.7 L271.3 226.9 L263.9 231.9 L258.7 240.8Z M667.4 219.7 L667.7 224 L664.6 227.2 L661.4 234.7 L658.2 239.8 L657 246.5 L658.9 254.7 L659.9 263.5 L663 270.8 L668.2 276.2 L671.2 281.2 L673.2 288.1 L672.7 294 L671.3 299.4 L669.2 301.5 L666.7 303.1 L662.6 299.8 L660.5 296.5 L659.2 290.3 L656.5 283.6 L653.3 278.1 L651.5 251.2 L652.2 241.8 L653.9 233.4 L653.9 230.8 L655.3 229.2 L657.4 225.1 L666 219.9Z"/>
<path fill="#ff9800" fill-rule="evenodd" d="M308 261.5 L307.7 262.7 L311.5 265.9 L314.7 265 L316.5 269.7 L321.5 274.7 L327.8 279.8 L331.6 283.5 L337.8 287.3 L342.7 294.7 L346.4 302.1 L351.4 322.1 L353.9 329.6 L355.8 339.6 L357.6 357.5 L357.2 358.2 L357.8 371.8 L360.9 394.3 L363.4 399.4 L365.9 408.1 L369.7 414.4 L372.2 420.6 L373.5 425.7 L383.4 445.6 L386.5 470.3 L387.2 479 L389.7 485.3 L392.2 501.5 L392.8 509.1 L394.7 516.6 L397.2 524.1 L398.4 530.3 L399.7 539 L400.3 550 L400.9 550.6 L403.4 550.6 L405.9 563.1 L410.9 575.6 L414.7 588.1 L419.7 598.2 L429.8 603.3 L436 612.8 L467.5 635.3 L475.1 635.8 L495.1 628.3 L515.1 625.8 L525.1 620.9 L534.9 622.1 L544.9 625.8 L555 627.1 L575.4 623.7 L575.4 630.5 L579.7 627.7 L581.4 625.6 L589.1 620.8 L590.4 618.8 L591.6 614.1 L595.3 607.7 L597.4 607.1 L614.2 598.7 L625.3 596.5 L651.4 596.3 L654.3 594.4 L655.4 592.5 L656.1 589.9 L657.8 589.2 L666.1 590.8 L667.1 593.7 L669.3 595.8 L676.8 597.5 L684.3 600.2 L686.7 599.9 L688.3 599.1 L692 594.6 L693.1 594.3 L698.7 596.4 L701.1 596.4 L702.7 595.7 L704.9 593.6 L706.3 589 L707.3 588.3 L711.9 589.4 L713.7 592.9 L716.5 594.9 L719.4 595.2 L725 593.8 L727.5 592.4 L728.9 590.6 L730.7 583.9 L730.6 581.6 L729.6 579.5 L727.5 577.7 L718.1 574.8 L720.4 571.3 L720.6 568 L719.4 565.4 L716 562.9 L720.3 561.2 L735.5 557.4 L738 555.7 L740.4 556.5 L744.2 556.5 L750.5 554.9 L756.3 550.9 L776.6 544.1 L791.1 546.2 L793.8 548.2 L795.9 552.4 L797.1 553.8 L799.1 554.9 L801.4 555.2 L804.2 554.3 L814.6 547.8 L828.1 536.5 L836.3 538.5 L843 540.7 L844.6 536.2 L850.7 529.3 L855.7 525.6 L863.2 523.1 L868.4 518.6 L880 518.6 L880.5 518.3 L880.6 513.3 L883.3 512 L884.4 506 L882.9 504.3 L878.3 496.2 L874.9 489.4 L872.8 480.8 L872.8 472.9 L876.1 466.1 L877.7 460 L881.6 459.5 L883.1 458.6 L884.6 456.7 L890.9 439.7 L896.1 431.7 L898.6 415.3 L902.2 412.5 L909.3 405.2 L915.7 387.7 L921.8 381.7 L929.7 376.3 L930.7 374.9 L931.4 372.8 L931.4 371.1 L930.1 365.5 L928.8 363.1 L931.7 360.5 L932.7 357.8 L931.1 346.2 L929.3 343.6 L921.4 337 L919.1 336.1 L916.7 332.3 L913.1 328.7 L910.8 324.3 L911.1 321.8 L909.4 304.7 L911 300.9 L911.7 292.9 L911.2 291.1 L908.5 286.1 L905.8 283.2 L907.3 279.3 L906.5 272.5 L907.9 269.6 L908.6 261.4 L898.6 261.4 L903.7 244.9 L901.8 240.8 L899.6 238.9 L900.6 234.1 L901.5 232.5 L905.5 229.4 L901.1 229.4 L911.6 215.4 L912.8 210.4 L915.9 205.4 L914.7 199.7 L917.1 195 L911.6 186.4 L910.1 179.3 L907.7 177.4 L903.9 175.6 L895.3 168.8 L893.9 165.7 L891.9 165.4 L889.1 161.6 L880.4 162.1 L876.5 157.5 L870.3 158.1 L864.5 157.3 L860.4 153.8 L860.4 146.8 L847.8 154.3 L827.9 164 L822.1 169.1 L818.8 175.6 L817.3 182.3 L812.8 195.1 L812.8 196.8 L813.6 199 L814.7 200.3 L816.9 201.8 L817.9 204.4 L819 205.9 L814.9 211.6 L808.1 214.5 L797.5 217.3 L795.2 219.1 L788.9 222.1 L787.5 223.3 L783.5 228 L782.7 230.9 L783.4 233.8 L787.4 239.3 L785.6 243.6 L781 251.6 L758.2 276.5 L749.6 281.5 L743.1 280.5 L739.1 281.6 L738.7 275.6 L739.7 272.5 L740.2 268.8 L742.6 266.5 L743.6 263.7 L742.9 255.7 L741.9 253.5 L726.6 235.3 L724.6 234.4 L719.1 233.8 L716.8 234.4 L714.7 235.9 L714.4 235 L715.5 229.4 L710.6 233.4 L703.2 234.4 L679.4 239.4 L672.1 240.5 L671.4 241.2 L657.9 240.7 L657 246.5 L658.9 254.7 L659.7 262.9 L663 270.8 L668.2 276.2 L671.2 281.2 L673.2 288.1 L672.7 294 L671.3 299.4 L669.2 301.5 L666.7 303.1 L662.6 299.8 L660.5 296.5 L659.2 290.3 L656.5 283.6 L653.3 278.1 L651.5 254.8 L652.2 241.8 L652.7 239.1 L644.2 235.7 L640.5 230.8 L636.7 229.4 L634.3 227 L631.7 222.6 L626.6 220.7 L619.1 218.8 L615.2 219.6 L609.1 219.4 L599 215.7 L593.9 217.2 L583.6 218 L583.5 217.7 L575.6 218.1 L575.6 203.5 L573.7 196.2 L573.7 189.8 L568.8 189.5 L562.6 193 L552.9 189.9 L551.2 189.8 L549 190.3 L547 189.1 L535.9 186.3 L532.9 186.6 L526.6 189.8 L521 188.8 L515.5 187.8 L514.5 183 L513 180.5 L511.2 179.3 L505.7 177.5 L502.8 177.9 L500.4 179.6 L499.1 182.3 L499 185.2 L483.1 187.5 L452.3 191 L431.7 192.8 L400.7 194.6 L373.4 195.4 L373.4 202.8 L364.7 210.8 L354.7 223.3 L349.8 228.2 L334.9 233.2 L324.8 240.7 L320.2 242.9 L313.7 243.4 L306.2 257.8Z"/>
<path fill="#ff4a00" fill-rule="evenodd" d="M360.6 261.4 L359.9 261.8 L356.4 269.4 L355.2 287 L357.7 293.4 L360.2 302.1 L362.7 312.1 L363.9 322.1 L366.4 332.1 L368.9 339.6 L370.7 357.4 L368.4 357.4 L367.8 357.9 L367.8 365.5 L369 380.5 L372.2 395.6 L377.2 405.6 L379.7 411.9 L383.6 413.3 L387.2 416.9 L389.7 423.2 L394.8 427 L398.5 431.9 L401 437 L404.7 440.7 L407.2 444.5 L412.2 450 L412.7 453.4 L409.7 453.4 L409.1 454.2 L409.7 459.1 L412.8 466.6 L412.2 490.2 L415.9 495.4 L416.5 501.5 L415.3 505.4 L419.7 519.2 L422.2 525.4 L424.7 529.1 L425.9 535.2 L426.6 535.6 L432.3 535.6 L434.8 540.5 L440.9 544.2 L442.1 550.1 L443.4 550.6 L444.8 553.2 L454.7 558.2 L455.9 568.1 L459.8 578.3 L469.8 583.3 L479.8 590.8 L487.5 595.8 L500.1 593.3 L507.7 590.8 L512.8 583.2 L517.6 574.8 L519.6 576.8 L514.8 585.1 L514.8 585.9 L517.3 590.8 L527.5 597 L537.6 590.8 L560 584.6 L570 587.1 L576.1 586.1 L576.6 584.6 L586.1 584.6 L608.6 575.8 L613.6 572.1 L619.6 572.1 L626 577.1 L645.9 579.6 L653.6 578.3 L658.5 575.9 L665.8 578.3 L670.7 583.2 L674.5 588.2 L678.6 592.6 L686.1 593.3 L701 589.6 L706.2 589.6 L707.3 588.3 L712 589.6 L726 589.5 L728.9 578.6 L726.9 577.4 L718.1 574.8 L720.4 571.3 L720.6 568 L719.4 565.4 L716 562.9 L720.3 561.2 L735.5 557.4 L738 555.7 L740 556.4 L748.8 544.5 L751.3 538.3 L762.2 533.4 L766 535.8 L773.7 534.6 L778.8 530.7 L783.7 525.8 L793.8 518.4 L793.7 517.8 L793.1 517.4 L780.6 517.4 L778.6 514.3 L776.1 507 L777.2 500.7 L772.3 498 L769.8 491.9 L768.6 484.4 L766.1 478.2 L765.4 473.1 L762.1 470.4 L757.2 469.2 L753.6 464.4 L754.2 458.3 L756.1 450.9 L759.7 446.6 L763.6 443.4 L771.1 428.4 L773.2 422.6 L777.4 422.4 L778.6 413.4 L776 408.3 L773 404.6 L773.6 399.8 L776.1 393.7 L779.7 388.8 L797.3 376.2 L795 371.2 L802.2 367.5 L807.2 363.8 L809.8 357.5 L819.7 350 L822.1 347.6 L826.9 347.6 L831.7 351.2 L834.1 367.2 L832.9 373.5 L835.4 379.7 L831.7 384.5 L827.9 388.3 L827.9 393.5 L833.1 397.6 L839.1 398.8 L839.1 403.4 L836.7 408.3 L832.9 413.3 L831.7 418.4 L829.5 422.3 L834.7 422.6 L836.7 427.1 L838 434.6 L841.7 438.5 L845.4 444.7 L849.3 454.7 L858.1 461 L864.5 463.6 L872.2 459.7 L879.4 449.5 L879.7 454.4 L885.5 454.6 L890.9 439.7 L896.3 431.1 L898.6 415.3 L902.2 412.5 L909.3 405.2 L915.7 387.7 L921.8 381.7 L929.7 376.3 L931.3 373.4 L931.3 370.5 L929.9 365 L928.8 363.1 L931.7 360.5 L932.7 357.8 L931.1 346.2 L929.3 343.6 L921.4 337 L919.1 336.1 L916.7 332.3 L913.1 328.7 L910.8 324.3 L911.1 321.8 L909.4 304.7 L911 300.9 L911.7 292.9 L911.2 291.1 L908.5 286.1 L905.8 283.2 L907.3 279.3 L906.5 272.5 L907.9 269.6 L908.6 261.4 L891 261.4 L891.4 258.4 L889.6 253.4 L888.4 247.3 L889.6 240.9 L884.3 229.6 L886.6 220.4 L890.9 211.6 L889.7 202.8 L886.4 198.7 L880.2 197.4 L870 199.9 L863.5 198.1 L857.3 200 L854.8 206.1 L851.5 205 L850.8 205.2 L847.2 208.8 L843.5 213.8 L840.9 221.4 L838.4 226.4 L838.7 230.4 L844 230.6 L839.4 232.4 L832 242.3 L828.3 248.5 L820.9 252.2 L810.9 254.7 L807.2 259.5 L803.7 257.2 L800.6 256.2 L800.6 252.4 L799.8 251.8 L786.9 257.6 L782.5 261.4 L772.2 261.4 L758.2 276.5 L749.6 281.5 L743.1 280.5 L739.1 281.6 L738.7 275.6 L739.7 272.5 L740.2 268.8 L742.6 266.5 L743.6 263.4 L736 263.4 L735.4 264 L735.4 266.3 L733.1 265.9 L726.8 262.8 L720.6 261.5 L714.3 262.1 L702.9 267.2 L695.4 269.7 L689.2 273.4 L682.9 272.8 L675.5 275.9 L666.4 274.4 L668.2 276.2 L671.2 281.2 L673.2 288.1 L672.7 294 L671.3 299.4 L669.2 301.5 L666.7 303.1 L662.6 299.8 L660.5 296.5 L659.2 290.3 L656.5 283.6 L653.3 278.1 L652.8 272.1 L645.8 270.9 L644.4 264.7 L639.9 261.4 L634.3 255.8 L629.1 251.9 L621.7 248.2 L614.1 245.7 L594.1 241.9 L585.3 239.4 L575.3 238.2 L566.6 236.3 L557.8 238.7 L551.7 235.1 L544.6 234 L532.6 228.2 L522.7 228.2 L517.7 221.9 L505.2 215.7 L498.9 212 L489.9 216.9 L475.1 214.4 L469.9 218.2 L459.9 219.4 L454.8 224.4 L444.8 225.8 L442.2 230.7 L432.5 234.4 L428.7 233.4 L427.2 238.2 L419.8 240.7 L412.4 245.6 L407.5 244.5 L404.9 246.9 L394.8 245.7 L387.3 248.2 L382.3 252 L374.8 258.7 L365.2 261.4Z"/>
<path fill="#e40000" fill-rule="evenodd" d="M892.6 373.3 L893.4 373.5 L900.7 371 L905.8 364.6 L904.5 356.8 L898.3 351.9 L897.5 352.1 L892.9 357.8 L885.5 353 L879.4 359 L879.6 365.9 L885.4 366.1Z M871 324.9 L872.3 331 L871.1 337.1 L871.5 337.7 L874.4 338.7 L875 338.3 L877.3 332.5 L881 331.3 L884.8 327.4 L886.1 322.3 L884.8 317.2 L878.3 315.7 L873.3 318.1Z M859.5 305 L860.1 305.3 L864.2 305.2 L865.5 310.5 L869.8 311.1 L872.2 308.5 L870 306.1 L873.5 303.7 L874.8 298.7 L873.5 293.5 L872.9 293.2 L868.1 293.8 L863.6 296.7 L863.4 299.2 L859.1 299.8 L858.8 300.4Z M380.2 324.6 L382 357.4 L380.5 357.5 L380 358.3 L382.2 364.3 L383.4 370.5 L384 379.3 L387.2 384.4 L387.8 391.8 L390.3 396.9 L399.8 404.5 L403.6 408.3 L409.8 412 L417.9 419.5 L423.5 422 L427.2 426.9 L429.8 432 L433.5 435.8 L438.5 439.5 L441 443.2 L447.8 444.4 L452.1 447.4 L449.5 453.4 L448 453.4 L447.4 454 L447.4 460.3 L446.5 461.5 L445.9 470.3 L447.4 474.2 L447.5 479.1 L451.5 480.5 L453.3 485.3 L452.7 491.5 L453.3 497.7 L452.1 504 L457.7 506.7 L459.2 514.4 L462.9 516.8 L470.5 515.6 L481.6 518.1 L485.7 519.7 L488.3 515.5 L492 511.8 L497 509.2 L502 493 L506.6 491.3 L509.3 494.3 L515.8 492.7 L512.8 496.2 L508 498.8 L508 499.6 L510.5 503.1 L518.1 504.3 L523.2 499.3 L529.4 498.1 L534.4 493.1 L536.4 493.1 L537.7 505.4 L545.1 512.8 L546 512.7 L548.2 510.6 L560.5 506.9 L566.6 508.1 L571.5 510.5 L572.6 513.8 L573.1 514.2 L576.4 513.1 L576.6 510.1 L580.8 510.6 L583.3 515.5 L594.5 524.3 L605.8 526.8 L611 524.4 L615.9 525.6 L621 524.4 L626 525.5 L631.2 521.8 L636 520.6 L641.1 523.1 L646.1 521.8 L651 519.4 L659.7 524.2 L663.7 519.3 L676.2 513 L680 509.2 L683.7 504.3 L698.7 496.8 L704.5 492.1 L704.6 477 L707.6 466.1 L708.8 456 L701.1 450.7 L689.2 445.9 L693.7 442.5 L701.1 438.8 L711.3 436.2 L715.1 431 L713.9 421 L716.3 411.2 L738.7 400.1 L746.2 393.8 L751.3 388.7 L752.6 386.6 L752.6 381.3 L756 377.4 L760.4 370.6 L762.9 364.3 L767.9 359.3 L771.6 353.1 L779.8 346.2 L781.6 342.6 L779.8 338.4 L779.2 333.7 L782.3 331.1 L784.8 320.1 L781 317.3 L778.7 312.6 L788.5 305.3 L791 300 L787.2 294.7 L780.8 293.4 L775.6 294.7 L771.8 299.6 L767 299.6 L753.3 297.2 L739.6 299.6 L736.6 298.2 L736.5 289.7 L732.9 288.4 L726.6 289.7 L720.4 292.2 L708 294.6 L704.2 293.4 L698 294.6 L689.1 299.7 L682.9 300.9 L676.7 303.4 L660.6 305.9 L655.7 303.5 L651.8 298.4 L645.6 297.2 L640.6 294.7 L633.1 292.2 L624.5 288.5 L623.3 284.8 L619.5 279.8 L608.6 272.9 L607.8 272.9 L607.4 273.5 L604.1 273.5 L599.1 271.7 L592.8 271 L586.6 269.2 L581.7 267.3 L579 263.5 L575.1 262.9 L562.8 267.9 L557.3 265.5 L555 263.2 L543.8 267.7 L537.6 265.7 L527.6 263.2 L520.1 261.9 L515.1 259.4 L500 261.9 L495.2 263.1 L493 259.8 L492.3 259.5 L479.9 264.4 L472.4 265.7 L469.7 270.8 L463.5 275.7 L459.8 280.7 L452.4 281.9 L444.9 285.7 L434.9 288.2 L429.8 290.7 L424.9 294.4 L416.3 296.1 L413.1 295.4 L407 293 L405.9 288.5 L405.2 287.9 L400.5 288.5 L394.2 287.9 L386.6 291.7 L379.6 298.1 L378.3 305.7 L377.7 314.6Z M682.6 466.5 L684.9 454.6 L703.4 454.6 L703.4 462 L695.8 466.2 L688.5 473.5 L685 471.3Z"/>
<path fill="#800000" fill-rule="evenodd" d="M409.7 376.9 L412.9 385.1 L416.1 388.3 L420 389.6 L423.6 389 L427.3 392.1 L432.3 394.5 L443.6 391.9 L447.4 398.3 L447.5 400.2 L448.6 401.1 L449.3 400.8 L452.8 396.2 L456.5 388.8 L462.5 386.4 L467.5 388.8 L474.9 387.6 L482.3 391.3 L489.8 393.8 L495 398.7 L505 391.4 L509.6 393.7 L504.7 408.3 L499.8 413.2 L496.1 418.2 L496.3 419 L500.1 422.6 L507.6 421.3 L515.2 416.3 L530.2 401.3 L545.1 396.3 L551.2 392.7 L560 401.3 L576.2 397.8 L576.6 397.1 L576.6 379.1 L586.1 373.9 L593.4 375.1 L600.9 380.1 L610.8 383.8 L615.8 391.3 L625.9 397.6 L638.4 398.8 L641.1 395.2 L650.8 398.8 L658.2 403.7 L660.6 410.8 L661.4 411.3 L678.9 407.3 L683.8 398.6 L682.6 388.5 L687.6 376.2 L696.2 365 L693.9 361 L696.3 355 L703.2 351.6 L703.5 350.8 L701.1 348.2 L686.2 343.2 L679.9 345.5 L672.4 328.1 L671.4 328.8 L671.4 338.1 L668 333 L664.3 329.3 L659.1 327.3 L652.7 328.5 L647.7 330.4 L643.9 334.1 L636.6 333.5 L629 326.7 L624 325.4 L613.9 325.4 L613.2 321.7 L608.6 320 L606.7 317.5 L606 317.7 L603.8 319.8 L595.4 321.6 L592.4 318.1 L590.4 311.7 L585.4 310.4 L579.2 306.7 L572.9 304.2 L562.9 298 L556.4 301.7 L548.9 302.3 L544.6 304.2 L544.5 302.5 L543.8 302 L520 304.4 L509.9 303.2 L504.4 304.4 L494.8 309.5 L489.7 322 L482.3 328.2 L474.9 330.7 L464.9 333.2 L457.5 338.1 L452.7 335.7 L447.6 331.9 L440 330.7 L429.9 333.2 L424.9 338.1 L417.3 338.3 L415.4 343.7 L415.5 354.2 L413.4 355.5 L412.9 357.4 L409.5 357.5 L407.3 360.2 L405.9 363.5 L404.7 369Z M644.7 416.3 L653.6 417.5 L657.1 413 L657.3 412.3 L656.7 411.7 L648.6 409.4 L641.4 411.8 L641.2 412.9Z M567.3 432.5 L576.2 432.5 L576.6 431.9 L576.5 428.1 L570 425.7 L564.2 426.9 L563.8 428Z M559.7 412.2 L560.4 412.6 L567.6 412.5 L570.1 405.9 L563.8 403.2 L558.8 405.6 L558.5 406.3Z M544.7 417.3 L545.4 417.6 L552.6 417.5 L555.1 412.1 L549.1 408.3 L548.4 408.3 L543.5 411Z M512.4 440 L520.2 438.8 L525.1 432.7 L525.1 431.9 L522.4 429.4 L512.2 430.8 L507.4 434.8Z"/>
<path fill="#ff9800" d="M888.9 245.4 L888.2 252.2 L890.8 257.2 L894.5 261 L897 266 L900.1 269.1 L903.2 269.1 L903.2 261 L901.4 253.5 L898.2 245.4Z"/>
<path fill="#ff4a00" d="M663.5 497.8 L668.5 499 L671 501.5 L674.8 502.8 L677.2 497.8 L676 492.8 L677.2 487.8 L681 482.8 L678.5 480.2 L674.8 484 L671 487.8 L667.2 492.8Z"/>
<path fill="#ff4a00" d="M700.4 477.1 L701 482.1 L704 482.8 L704 476.5Z"/>
</g>
<path fill="#595959" fill-rule="evenodd" d="M0 60 H1030 V740 H0 Z M102.8 165.8 L112.7 168.6 L122.7 171.2 L132.7 173.8 L142.8 176.2 L152.9 178.6 L163 180.8 L173.1 182.9 L183.3 184.9 L193.5 186.8 L203.8 188.5 L214 190.2 L224.3 191.7 L234.6 193.2 L244.9 194.5 L255.2 195.7 L265.6 196.8 L276 197.8 L286.3 198.6 L296.7 199.4 L307.1 200 L317.5 200.6 L328 201 L338.4 201.3 L348.8 201.4 L359.2 201.5 L369.7 201.5 L380.1 201.3 L390.5 201 L400.9 200.6 L411.3 200.1 L421.7 199.5 L432.1 198.8 L442.5 197.9 L452.9 197 L463.2 195.9 L473.6 194.7 L483.9 193.4 L494.2 192 L504.5 190.5 L505 189.8 L505 183.5 L508.8 184.8 L510.5 193 L520 194.8 L527.5 196 L535 192.2 L545 194.8 L544 194.8 L549 197.2 L551.5 195.8 L560.2 198.8 L564 199.1 L570.2 195.4 L574 196 L581.5 193.5 L585.9 194.8 L575.2 204.1 L566.5 216 L557.8 227.2 L562.8 226.6 L577.8 219.5 L579 224.5 L586.5 223.8 L594 217.5 L609 205.8 L610.2 202.9 L616.5 198.2 L620.5 198.2 L616.5 202.2 L614.6 207.9 L614 212.9 L617.8 208.8 L624 209.1 L634 213.2 L644 211.6 L651.5 205 L665.9 199.1 L667.8 202.5 L672 202 L672 202 L678.2 202 L680.8 204.8 L687 207.2 L683.2 209.1 L677 210.4 L676.4 213.5 L672 212.5 L672 212.9 L664 214.1 L656.5 218.5 L652.8 221 L650.2 226 L647.8 222.9 L644 223.2 L642.1 228.5 L640.2 237.2 L637.1 246 L635.2 253.5 L636.8 255.4 L639.6 248.5 L642.8 243.5 L644.6 237.9 L645.5 231 L647.2 225.4 L648 232.2 L646.2 241 L645.5 251 L645.5 255 L646.1 263.8 L646.8 271.2 L647.4 280 L651.1 286.2 L653.6 292.5 L654.9 298.8 L658 303.8 L663.6 308.8 L668 309.4 L673 306.2 L676.8 302.5 L678.6 295 L679.2 287.5 L676.8 278.8 L673 272.5 L668 267.5 L665.5 261.2 L664.9 253.8 L663 246.2 L663.6 242.5 L666.8 237.5 L669.9 230 L672 229.1 L673.9 224.8 L673.2 221 L675.8 217.5 L675.8 217.5 L684.5 216.6 L702 218.5 L705.8 222.9 L704.5 224.8 L708.9 229.8 L709.5 230 L708.2 235 L709.5 240 L706.4 244.4 L706.4 250 L711.4 252.2 L713.9 248.8 L714.5 243.8 L719.5 239.8 L723.2 240.2 L728.2 246.2 L733.2 252.5 L737 256.9 L737.6 263.1 L734.5 265.6 L733.9 271.2 L732.6 275 L733.2 280 L732 286.9 L732 286.9 L739.5 287.8 L743.2 286.5 L750.8 287.8 L762 281.2 L769.5 273.1 L777 265 L784.5 256.9 L786 255 L791 246.2 L794.1 238.8 L791 233.8 L787.9 230 L787.6 232.2 L792 227.2 L800 223.5 L800 222.8 L810 220.2 L818.8 216.5 L826.9 205.2 L823.1 201.5 L821.9 197.8 L818.8 195.9 L820.6 190.2 L823.1 184 L824.4 177.8 L826.9 172.8 L831.2 169 L835 167.1 L850.6 159.6 L875 145 L874.4 139.6 L876.2 137.8 L880 136.5 L875.9 138.1 L880.2 135 L881.5 130.6 L879.6 126.2 L880.9 121.2 L879 117.5 L877.1 112.5 L876.5 107.5 L874 103.8 L874.6 95 L874 85.6 L876.5 85 L879.6 86.9 L882.8 86.2 L887.1 80 L896.5 80 L915.2 101.9 L921.5 100.6 L926.5 106.2 L930.2 106.9 L935.2 107.5 L939 110 L937.1 113.8 L934 116.9 L932.1 122.5 L929 125 L925.9 124.4 L924 130 L920.2 132.5 L918.4 129.4 L919.6 135 L920.2 141.2 L916.5 145 L914 147.5 L911.5 152.5 L910.2 157.5 L911.5 162.5 L910.9 166 L911.8 166 L913 174.8 L916.1 177.9 L915.5 182.2 L918 186 L925.5 186.6 L930.5 190.4 L929.2 194.8 L928 199.8 L923 197.9 L921.1 199.8 L923.6 206 L919.9 209.1 L916.8 211 L911.8 215.4 L906.8 218.5 L903 221 L901.8 224.8 L896.8 228.5 L894.9 232.2 L894.2 236 L893 239.8 L891.1 244.8 L896.8 244.1 L898 248.5 L900.5 254.8 L903 262 L897.6 246 L900.8 253.5 L902.6 261 L902 268.5 L900.1 271 L901.4 278.5 L900.1 281.2 L898.2 277 L894.5 276 L889.5 277.2 L887 277 L890.8 281 L895.8 284.1 L900.1 286 L903.2 289.1 L905.8 293.5 L905.1 299.8 L903.2 303.5 L903.9 311 L904.5 317.2 L905.1 322.5 L902 323.5 L900.1 316 L899.5 311 L900.8 306 L897 307.2 L893.2 304.8 L890.8 299.8 L887 298.5 L885.8 294.1 L882 292.2 L879.5 287.2 L878.2 282.2 L875.8 278.5 L873.2 282.2 L869.5 287.2 L873.2 289.8 L875.1 294.8 L878.2 299.8 L882 302.9 L887 304.8 L892 308.5 L893.2 313.5 L894.5 318.5 L897 322.2 L899.5 326 L902 327.9 L905.8 327.5 L908.2 332.2 L912 336 L915.8 342 L918 342 L925.5 348.2 L926.8 357 L920.5 362 L924.2 367 L925.5 372 L918 377 L910.5 384.5 L908 392 L904.2 402 L898 408.2 L893 412 L891.8 422 L890.5 429.5 L885.5 437 L883 444.5 L879.2 454 L873 454 L870.5 464 L866.8 471.5 L866.8 481.5 L869.2 491.5 L873 499 L878 507.8 L885.5 516.5 L898 526.5 L908 534 L916.8 539 L923 549 L935.5 561.5 L943 566.5 L948 576.5 L951.8 584 L954.2 591.5 L955.5 604 L956.8 609 L953 611.5 L948 611.5 L943 615.2 L939.2 614 L938 610.2 L930.5 606.5 L923 602.8 L918 604 L910.5 596.5 L906.8 590.2 L904.2 591.5 L900.5 584 L895.5 585.2 L890.5 581.5 L885.5 576.5 L881.8 576.5 L883 567.8 L880.5 565.2 L874.2 569 L873 561.5 L870.5 551.5 L866.8 546.5 L861.8 542.8 L855.5 541.5 L845.5 535.2 L838 532.8 L828 530.2 L832 529.2 L826 530.5 L819.8 535.5 L811 543 L801 549.2 L798.5 544.2 L793.5 540.5 L786 539.2 L776 538 L768.5 540.5 L761 543 L753.5 545.5 L748.5 549.2 L743.5 550.5 L741 550.5 L736 541.8 L733.5 551.8 L728.5 553 L718.5 555.5 L708.5 559.2 L706 564.2 L701 565.5 L703.5 569.2 L711 566.8 L714.8 569.2 L711 574.2 L707.2 578 L716 580.5 L724.8 583 L723.5 588 L718.5 589.2 L716 584.2 L706 581.8 L701 585.5 L699.8 590.5 L693.5 588 L688.5 589.2 L684.8 594.2 L678.5 591.8 L672.2 590.5 L671 585.5 L663.5 584.2 L657.2 583 L651 585.5 L649.8 590.5 L624.8 590.5 L612.2 593 L602.2 598 L594.8 601.8 L591 596.8 L587.2 600.5 L589.8 605.5 L586 611.8 L584.8 616.8 L576 621.8 L576 623 L566.2 629.2 L560 625.5 L555 628 L557.5 633 L550 635.5 L545 641.8 L542.5 648 L537.5 650.5 L542.5 655.5 L540 663 L535 661.8 L540 668 L540 675.5 L543.8 683 L548.8 690.5 L548.8 695 L548.8 695 L532.5 693 L517.5 690.5 L506.2 686.8 L501.2 680.5 L495 670.5 L492.5 660.5 L486.2 658 L480 653 L472.5 644.2 L467.5 635.5 L460 625.5 L447.5 616.8 L442.5 612.5 L427.5 612.5 L420 610.5 L411.2 614.2 L407.5 625.5 L403.8 630.5 L397.5 629.2 L385 623 L373.8 618 L368.8 611.8 L367.5 604.2 L362.5 595.5 L352.5 586.8 L338.8 578 L330 570.5 L323.8 563 L323.8 566.8 L320 567.5 L320 567.8 L290.2 566.5 L289 575.8 L271.5 575.2 L226.5 571.5 L150.2 536.5 L151.5 531.5 L155.2 530.2 L100.2 526.5 L100 526.4 L99.4 520.8 L98.8 513.2 L96.2 507 L91.2 500.8 L86.9 495.8 L81.2 493.9 L80.6 488.2 L73.8 486.4 L68.1 483.2 L66.2 478.2 L61.2 474.5 L43.8 470.1 L40.6 466.4 L44.4 454.5 L40.6 450.1 L41.9 447.6 L38.1 442 L37.5 442 L34.4 436 L33.1 431 L28.1 422.2 L28.1 417.2 L32.5 415.4 L33.5 409.8 L28.8 407.9 L25.6 401 L25 396 L26.9 391 L27.5 387.2 L20.6 381.6 L22.5 376.6 L18.8 369.8 L13.8 358.5 L16.9 346 L17.5 346 L18.8 340 L14.4 330 L13.8 325 L21.9 317.5 L27.5 305 L28.1 297.5 L29.4 294.4 L28.1 288.8 L31.2 281.2 L30.6 276.2 L37.5 267.5 L40 265 L50 250 L51.2 244.8 L61.2 227.2 L62.5 223.5 L65 211.6 L67.5 203.5 L68.5 197.2 L70 182.2 L68.1 176 L70.6 169.1 L75 172.2 L81.2 175.4 L87.5 177.9 L91.9 181 L95 183.5 L96.2 188.5 L96.9 192.2 L100 192.9 L101.9 189.8 L103.8 186 L101.9 182.2 L104.4 178.5 L102.5 173.5 L103.8 169.8 L103.1 166.6Z"/>
<g clip-path="url(#out)"><path class="c" d="M590.2 195.4 L593.4 187.2 L594 182.2 L599 178.5 L597.8 184.8 L600.9 179.8 L604 173.5 L603.4 169.1 L609 168.2 L617.8 170.4 L630.2 167 L636.5 173.5 L644 178.5 L650.2 177.9 L658.4 175.4 L659.6 181.6 L667.8 186 L668.4 192.9 L672 192.9 M682.6 202.2 L699.5 199.1 L710.8 195.4 L719.5 193.8 L721.4 195.4 L723.2 193.8 L728.2 192.9 L734.5 191.6 L743.2 196.6 L750.8 198.5 L762 206 L758.2 207.9 L758.9 214.1 L748.2 214.1 L745.8 216.6 L742 212.9 L737 211.6 L733.2 207.9 L727.6 209.1 L739.5 219.1 L737.6 232.2 L744.5 246 L737 256 M775.1 234.8 L775.8 228.5 L780.8 219.1 L800 207.2 M754.5 262 L758.2 256 L772 252.2 L778.2 251 L773.2 249.1 L775.8 244.8 L790.8 238.5 M672 192.9 L674.5 194.8 L673.2 198.5 L677 200.4 L680.8 198.5 L682.6 202.2 M737 230 L744.5 246.2 L738.2 255 L727 230 M742 267.5 L735.8 272.5 L734.5 277.5 L737 279.4 L744.5 276.9 L745.8 273.1 L752 267.5 L754.5 260 L762 255 L772 252.5 L777.6 251.2 L773.2 250 L775.8 246.2 L790.8 239.4 L793.9 237.5 M951.5 77.5 L950.2 85 L946.5 93.8 L942.8 95 L941.5 100 L937.8 103.8 L931.5 105 M957.8 77.5 L956.5 81.2 L959 82.5 L960.2 88.8 L956.5 97.5 L954 106.2 L956.5 111.2 L960.2 114.4 M882.8 77.5 L881.5 83.8 L878.4 86.2 M800 171.5 L805 169 L811.2 170.9 L818.8 162.8 L825 157.1 L831.2 156.5 L836.2 157.1 L840 149 L841.2 140.2 L843.8 134 M830 157.8 L831.2 162.1 L836.2 160.2 L842.5 152.8 L841.2 147.8 L837.5 150.2 M800 206.5 L807.5 201.5 L810 206.5 L800 210.2 M800 215.9 L816.2 209 L818.8 197.8 M930.5 190.4 L935.5 189.8 L941.1 188.5 L935.5 182.9 L932.4 184.1 M931.8 192.9 L933.6 196.6 L941.1 188.5 M29.4 381.6 L31.9 381 L33.8 384.1 L30.6 386 L29.4 381.6 M30 388.5 L32.5 392.9 L33.1 396.6 L28.8 393.5 L30 388.5 M92.5 188.5 L86.2 195.4 L85 200.4 L90 202.2 L96.2 199.8 L101.2 192.2 L98.8 191 L95 196 L91.2 197.2 L92.5 192.9 L95.6 189.8 M905.8 327.2 L909.5 331 L919.5 338.5 L924.5 342 M908 329.5 L928 345.8 L918 344.5 L913 348.2 M904.2 344.5 L910.5 350.8 L908 355.8 L915.5 362 L906.8 363.2 M140.2 644 L144 643 L147.8 648.5 L143.5 650 L140.2 644 M192.8 675.5 L196.5 674.8 L199.5 681 L195.2 682.2 L192.8 675.5 M540 712.5 L545 706.2 L548.8 708.8 L543.8 715 L542.5 722.5 L542 732.5 M965.5 661.2 L960.5 662.5 L954.2 665.5 L953 667.5 L934.2 671.2 L930.5 677.5 L925.5 680 L918 682.5 L913 686.2 L911.8 688 L903 695 L898 698 L895.5 705 L893 707.5 L893 712.5 L898 715.5 L891.8 718.8 L883.5 724.5 L889.2 724.5 L895.5 720 L896.8 723 L900.5 718.8 L905.5 717 L906.8 708.8 L914.2 706.2 L918 703.8 L924.2 695 L928 687 L943 682 L953 679.5 L958 680.5 L955 685 L946.8 688 L955.5 690.5 L965.5 689 M41.2 107.5 L46.2 107 L50 110 L57.5 116.2 L65 121.2 L71.2 123.8 L75 128.8 L76.2 137.5 L78.8 143.8 L86.2 152.5 L90 158.8 L91.2 166.2 L88.8 175 L82.5 172.5 L75 168.8 L68.8 166.2 L70 161.2 L73.8 158.8 L75 152.5 L72.5 155 L68.8 157.5 L63.8 152.5 L61.2 147.5 L56.2 142.5 L53.8 137.5 L48.8 131.2 L46.2 125 L41.2 122.5 L42.5 113.8 L41.2 107.5 M53.8 77.5 L60 81.2 L62.5 78.8 L71.2 80 L68.8 85 L62.5 85 L56.2 93.8 L60 96.2 L53.8 102.5 L56.2 107.5 L62.5 108.8 L66.2 116.2 L72.5 118.8 L77.5 116.2 L80 123.8 L86.2 121.2 L83.8 130 L87.5 136.2 L93.8 137.5 L95 145 L98.8 151.2 L101.2 150 L97.5 157.5 L100 165 L102.5 166.2 M448.5 91.2 L452.2 96.2 L448.5 101.2 L438.5 101.2 L434.8 115 L442.2 117.5 L441 121.2 L456 135 L458.5 138.8 L461 133.8 L466 137.5 L468.5 142.5 L472.2 140 L476 145 L481 152.5 L482.2 160 L478.5 166.2 L473.5 165 L471 152.5 L473.5 147.5 L467.2 142.5 L468.5 135 L461 116.2 L451 102.5 L453.5 96.2 L448.5 91.2 M664.5 78.8 L672 81.2 L682 85 L689.5 92.5 L699.5 91.2 L698.2 85 L702 80 L709.5 81.2 L708.2 85"/>
<path class="n" d="M585.2 195.4 L591.5 192.9 L605.2 183.5 L669 194.8 L672 195.4 M688.2 204.8 L694.5 204.1 L695.1 209.1 L713.9 212.2 L736.4 244.8 L737 256 M783.9 227.9 L788.2 222.2 L800 216 M737.6 263.1 L734.5 271.2 L734.5 280 L738.2 282.5 L747 281.9 L759.5 270 L792 240 M100.2 526.5 L155.2 530.2 L150.2 536.5 L226.5 571.5 L271.5 575.2 L289 575.8 L289.8 566.5 L320 567.8 M548.8 695 L532.5 693 L517.5 690.5 L506.2 686.8 L501.2 680.5 L495 670.5 L492.5 660.5 L486.2 658 M403.8 630.5 L397.5 629.2 L385 623 L373.8 618 L368.8 611.8 L367.5 604.2 L362.5 595.5 L352.5 586.8 L338.8 578 L330 570.5 L323.8 563 M95.2 163.6 L105.3 166.5 L115.5 169.3 L125.6 172 L135.9 174.6 L146.1 177 L156.4 179.4 L166.8 181.6 L177.1 183.7 L187.5 185.7 L197.9 187.5 L208.4 189.3 L218.9 190.9 L229.3 192.5 L239.9 193.9 L250.4 195.1 L260.9 196.3 L271.5 197.4 L282.1 198.3 L292.7 199.1 L303.3 199.8 L313.9 200.4 L324.5 200.8 L335.1 201.2 L345.7 201.4 L356.4 201.5 L367 201.5 L377.6 201.4 L388.3 201.1 L398.9 200.7 L409.5 200.2 L420.1 199.6 L430.7 198.9 L441.3 198 L451.9 197.1 L462.4 196 L473 194.8 L483.5 193.5 L494 192 L504.5 190.5"/></g>
<path class="us" d="M102.8 165.8 L112.7 168.6 L122.7 171.2 L132.7 173.8 L142.8 176.2 L152.9 178.6 L163 180.8 L173.1 182.9 L183.3 184.9 L193.5 186.8 L203.8 188.5 L214 190.2 L224.3 191.7 L234.6 193.2 L244.9 194.5 L255.2 195.7 L265.6 196.8 L276 197.8 L286.3 198.6 L296.7 199.4 L307.1 200 L317.5 200.6 L328 201 L338.4 201.3 L348.8 201.4 L359.2 201.5 L369.7 201.5 L380.1 201.3 L390.5 201 L400.9 200.6 L411.3 200.1 L421.7 199.5 L432.1 198.8 L442.5 197.9 L452.9 197 L463.2 195.9 L473.6 194.7 L483.9 193.4 L494.2 192 L504.5 190.5 L505 189.8 L505 183.5 L508.8 184.8 L510.5 193 L520 194.8 L527.5 196 L535 192.2 L545 194.8 L544 194.8 L549 197.2 L551.5 195.8 L560.2 198.8 L564 199.1 L570.2 195.4 L574 196 L581.5 193.5 L585.9 194.8 L575.2 204.1 L566.5 216 L557.8 227.2 L562.8 226.6 L577.8 219.5 L579 224.5 L586.5 223.8 L594 217.5 L609 205.8 L610.2 202.9 L616.5 198.2 L620.5 198.2 L616.5 202.2 L614.6 207.9 L614 212.9 L617.8 208.8 L624 209.1 L634 213.2 L644 211.6 L651.5 205 L665.9 199.1 L667.8 202.5 L672 202 L672 202 L678.2 202 L680.8 204.8 L687 207.2 L683.2 209.1 L677 210.4 L676.4 213.5 L672 212.5 L672 212.9 L664 214.1 L656.5 218.5 L652.8 221 L650.2 226 L647.8 222.9 L644 223.2 L642.1 228.5 L640.2 237.2 L637.1 246 L635.2 253.5 L636.8 255.4 L639.6 248.5 L642.8 243.5 L644.6 237.9 L645.5 231 L647.2 225.4 L648 232.2 L646.2 241 L645.5 251 L645.5 255 L646.1 263.8 L646.8 271.2 L647.4 280 L651.1 286.2 L653.6 292.5 L654.9 298.8 L658 303.8 L663.6 308.8 L668 309.4 L673 306.2 L676.8 302.5 L678.6 295 L679.2 287.5 L676.8 278.8 L673 272.5 L668 267.5 L665.5 261.2 L664.9 253.8 L663 246.2 L663.6 242.5 L666.8 237.5 L669.9 230 L672 229.1 L673.9 224.8 L673.2 221 L675.8 217.5 L675.8 217.5 L684.5 216.6 L702 218.5 L705.8 222.9 L704.5 224.8 L708.9 229.8 L709.5 230 L708.2 235 L709.5 240 L706.4 244.4 L706.4 250 L711.4 252.2 L713.9 248.8 L714.5 243.8 L719.5 239.8 L723.2 240.2 L728.2 246.2 L733.2 252.5 L737 256.9 L737.6 263.1 L734.5 265.6 L733.9 271.2 L732.6 275 L733.2 280 L732 286.9 L732 286.9 L739.5 287.8 L743.2 286.5 L750.8 287.8 L762 281.2 L769.5 273.1 L777 265 L784.5 256.9 L786 255 L791 246.2 L794.1 238.8 L791 233.8 L787.9 230 L787.6 232.2 L792 227.2 L800 223.5 L800 222.8 L810 220.2 L818.8 216.5 L826.9 205.2 L823.1 201.5 L821.9 197.8 L818.8 195.9 L820.6 190.2 L823.1 184 L824.4 177.8 L826.9 172.8 L831.2 169 L835 167.1 L850.6 159.6 L875 145 L874.4 139.6 L876.2 137.8 L880 136.5 L875.9 138.1 L880.2 135 L881.5 130.6 L879.6 126.2 L880.9 121.2 L879 117.5 L877.1 112.5 L876.5 107.5 L874 103.8 L874.6 95 L874 85.6 L876.5 85 L879.6 86.9 L882.8 86.2 L887.1 80 L896.5 80 L915.2 101.9 L921.5 100.6 L926.5 106.2 L930.2 106.9 L935.2 107.5 L939 110 L937.1 113.8 L934 116.9 L932.1 122.5 L929 125 L925.9 124.4 L924 130 L920.2 132.5 L918.4 129.4 L919.6 135 L920.2 141.2 L916.5 145 L914 147.5 L911.5 152.5 L910.2 157.5 L911.5 162.5 L910.9 166 L911.8 166 L913 174.8 L916.1 177.9 L915.5 182.2 L918 186 L925.5 186.6 L930.5 190.4 L929.2 194.8 L928 199.8 L923 197.9 L921.1 199.8 L923.6 206 L919.9 209.1 L916.8 211 L911.8 215.4 L906.8 218.5 L903 221 L901.8 224.8 L896.8 228.5 L894.9 232.2 L894.2 236 L893 239.8 L891.1 244.8 L896.8 244.1 L898 248.5 L900.5 254.8 L903 262 L897.6 246 L900.8 253.5 L902.6 261 L902 268.5 L900.1 271 L901.4 278.5 L900.1 281.2 L898.2 277 L894.5 276 L889.5 277.2 L887 277 L890.8 281 L895.8 284.1 L900.1 286 L903.2 289.1 L905.8 293.5 L905.1 299.8 L903.2 303.5 L903.9 311 L904.5 317.2 L905.1 322.5 L902 323.5 L900.1 316 L899.5 311 L900.8 306 L897 307.2 L893.2 304.8 L890.8 299.8 L887 298.5 L885.8 294.1 L882 292.2 L879.5 287.2 L878.2 282.2 L875.8 278.5 L873.2 282.2 L869.5 287.2 L873.2 289.8 L875.1 294.8 L878.2 299.8 L882 302.9 L887 304.8 L892 308.5 L893.2 313.5 L894.5 318.5 L897 322.2 L899.5 326 L902 327.9 L905.8 327.5 L908.2 332.2 L912 336 L915.8 342 L918 342 L925.5 348.2 L926.8 357 L920.5 362 L924.2 367 L925.5 372 L918 377 L910.5 384.5 L908 392 L904.2 402 L898 408.2 L893 412 L891.8 422 L890.5 429.5 L885.5 437 L883 444.5 L879.2 454 L873 454 L870.5 464 L866.8 471.5 L866.8 481.5 L869.2 491.5 L873 499 L878 507.8 L885.5 516.5 L898 526.5 L908 534 L916.8 539 L923 549 L935.5 561.5 L943 566.5 L948 576.5 L951.8 584 L954.2 591.5 L955.5 604 L956.8 609 L953 611.5 L948 611.5 L943 615.2 L939.2 614 L938 610.2 L930.5 606.5 L923 602.8 L918 604 L910.5 596.5 L906.8 590.2 L904.2 591.5 L900.5 584 L895.5 585.2 L890.5 581.5 L885.5 576.5 L881.8 576.5 L883 567.8 L880.5 565.2 L874.2 569 L873 561.5 L870.5 551.5 L866.8 546.5 L861.8 542.8 L855.5 541.5 L845.5 535.2 L838 532.8 L828 530.2 L832 529.2 L826 530.5 L819.8 535.5 L811 543 L801 549.2 L798.5 544.2 L793.5 540.5 L786 539.2 L776 538 L768.5 540.5 L761 543 L753.5 545.5 L748.5 549.2 L743.5 550.5 L741 550.5 L736 541.8 L733.5 551.8 L728.5 553 L718.5 555.5 L708.5 559.2 L706 564.2 L701 565.5 L703.5 569.2 L711 566.8 L714.8 569.2 L711 574.2 L707.2 578 L716 580.5 L724.8 583 L723.5 588 L718.5 589.2 L716 584.2 L706 581.8 L701 585.5 L699.8 590.5 L693.5 588 L688.5 589.2 L684.8 594.2 L678.5 591.8 L672.2 590.5 L671 585.5 L663.5 584.2 L657.2 583 L651 585.5 L649.8 590.5 L624.8 590.5 L612.2 593 L602.2 598 L594.8 601.8 L591 596.8 L587.2 600.5 L589.8 605.5 L586 611.8 L584.8 616.8 L576 621.8 L576 623 L566.2 629.2 L560 625.5 L555 628 L557.5 633 L550 635.5 L545 641.8 L542.5 648 L537.5 650.5 L542.5 655.5 L540 663 L535 661.8 L540 668 L540 675.5 L543.8 683 L548.8 690.5 L548.8 695 L548.8 695 L532.5 693 L517.5 690.5 L506.2 686.8 L501.2 680.5 L495 670.5 L492.5 660.5 L486.2 658 L480 653 L472.5 644.2 L467.5 635.5 L460 625.5 L447.5 616.8 L442.5 612.5 L427.5 612.5 L420 610.5 L411.2 614.2 L407.5 625.5 L403.8 630.5 L397.5 629.2 L385 623 L373.8 618 L368.8 611.8 L367.5 604.2 L362.5 595.5 L352.5 586.8 L338.8 578 L330 570.5 L323.8 563 L323.8 566.8 L320 567.5 L320 567.8 L290.2 566.5 L289 575.8 L271.5 575.2 L226.5 571.5 L150.2 536.5 L151.5 531.5 L155.2 530.2 L100.2 526.5 L100 526.4 L99.4 520.8 L98.8 513.2 L96.2 507 L91.2 500.8 L86.9 495.8 L81.2 493.9 L80.6 488.2 L73.8 486.4 L68.1 483.2 L66.2 478.2 L61.2 474.5 L43.8 470.1 L40.6 466.4 L44.4 454.5 L40.6 450.1 L41.9 447.6 L38.1 442 L37.5 442 L34.4 436 L33.1 431 L28.1 422.2 L28.1 417.2 L32.5 415.4 L33.5 409.8 L28.8 407.9 L25.6 401 L25 396 L26.9 391 L27.5 387.2 L20.6 381.6 L22.5 376.6 L18.8 369.8 L13.8 358.5 L16.9 346 L17.5 346 L18.8 340 L14.4 330 L13.8 325 L21.9 317.5 L27.5 305 L28.1 297.5 L29.4 294.4 L28.1 288.8 L31.2 281.2 L30.6 276.2 L37.5 267.5 L40 265 L50 250 L51.2 244.8 L61.2 227.2 L62.5 223.5 L65 211.6 L67.5 203.5 L68.5 197.2 L70 182.2 L68.1 176 L70.6 169.1 L75 172.2 L81.2 175.4 L87.5 177.9 L91.9 181 L95 183.5 L96.2 188.5 L96.9 192.2 L100 192.9 L101.9 189.8 L103.8 186 L101.9 182.2 L104.4 178.5 L102.5 173.5 L103.8 169.8 L103.1 166.6Z"/>
<path class="m" d="M100.2 526.5 L104 541.5 L107.8 546.5 L104 547.8 L110.2 564 L114 576.5 M151.5 531.5 L144 540.2 L142.8 546.5 M146.5 550.2 L141.5 562.8 L144 571.5 L145.2 576.5 M146.5 550.2 L152.8 554 L159 560.2 L164 556.5 L170.2 565.2 L179.5 569 L180.2 576 M112.8 576 L116.5 583.5 L117.8 593.5 L131.5 606 L149 629.8 L146.5 637.2 L139 643.5 L122.8 641.5 L134 653.5 L135.2 658.5 L150.2 671 L161.5 672.2 L164 669.8 L164 676 L181.5 689.8 L185.2 698.5 L185.2 708.5 L181.5 721 L186.5 728.5 L187.8 736 M144 576 L142.8 587.2 L146.5 598.5 L156.5 608.5 L162.8 617.2 L162.8 622.2 L169 624.8 L176.5 636 L177.8 651 L185.2 658.5 L191.5 671 L200.2 678.5 L204 686 L205.2 703.5 L212.8 714.8 L217.8 728.5 L219 736 M179 576 L182.8 586 L185.2 599.8 L191.5 613.5 L194 623.5 L200.2 629.8 L207.8 638.5 L216.5 649.8 L229 653.5 L226.5 663.5 L230.2 669.8 L240.2 673.5 L244 682.2 L251.5 683.5 L257.8 692.2 L251.5 698.5 L251.5 707.2 L261.5 712.2 L276.5 719.8 L284 726 L285.2 736 M548.8 695 L553 693 L553.8 700 L550 710 L547 717 M864.2 77.5 L860.5 90 L863 102.5 L855.5 115 L848 120 L843 132.5 L840.5 142.5 L843 150 L836.8 156.2 L834.2 166.2"/>
<path class="t" d="M687.2 566.8 L691 562.5 L704.8 563.5 L696 569.2 L688.5 570 L687.2 566.8"/>
<path class="b" d="M557.8 227.2 L557.1 228.5 L559.6 236 L560.2 240.4 L555.2 243.5 L552.8 248.5 L553.4 252.2 L557.1 253.5 L557.8 262 M586.5 223.8 L590.9 227.2 L599 227.9 L625.9 227.9 L631.5 232.2 L634 237.9 L637.1 241.6 L639.9 241.2 L641.1 235 L648 231.9 L658 233.1 M748.2 166 L759.5 171 L778.2 167.9 L788.2 169.8 L800 172.2 M663.6 308.8 L670.5 326 M674.2 305 L709.2 294.4 L731.8 286.9 M709.2 294.4 L721.8 326 M625.5 230.6 L631.1 231.9 L633 237.5 L636.8 238.8 L638.6 241.9 M639.9 241.2 L641.1 235 L648 231.9 L658 233.1 M709.5 294.4 L732 287.2 M709.5 294.4 L722 326 M777 265 L798.2 307.5 M787.6 291.2 L793.2 300 L793.9 312.5 L788.2 320 L784.5 326 M785.1 254.4 L788.2 259.4 L800 254.4 M777.2 265.6 L799.1 307.5 L864 278.8 M786 255 L788.5 259.4 L854.8 230 M788.5 291.2 L792.2 297.5 L794.1 305 L793.5 312.5 L789.8 318.8 L786 320 L784.1 326 M816 301.9 L821.6 310.6 L828.5 297.5 L836 295 L843.5 291.2 L850.4 298.1 L848.5 300 L838.5 298.1 L839.8 305 L836 316.2 L833.5 315 L832.2 323.8 L824.8 324.4 L825.4 326 M875.9 138.1 L879.6 137.5 L902.8 166 M864 147.5 L875.2 144.8 L877.8 150 L880.9 153.1 L879.6 157.5 L877.8 161.2 L879.6 166 M874.6 138.8 L875.9 145 M835 167.1 L850.6 159.6 L875 145 L874.4 139.6 L876.2 137.8 L880 136.8 M850.6 159.6 L855 165.2 L858.8 170.2 L860.6 175.2 L865 180.2 L867.5 183.4 L870 182.8 L873.8 189 L877.5 194 L880 196.5 M875 145 L878.1 147.8 L880 152.8 L877.5 159.6 L880 165.2 L881.9 174 L885 181.5 L889.4 189.6 M880 137.1 L902.5 165.2 L910 169 L912.5 175.2 M880 196.5 L889.4 189.6 L908.8 181.5 L912.5 175.9 M880 196.5 L885 210.2 L916.2 195.2 M885 210.2 L890 219 L895 227.8 L896.2 230 M910.6 199.6 L917.5 209 M879.9 196.6 L882.4 206 L885.5 211 L890.5 219.8 L895.5 227.9 L894.2 232.2 M885.5 211 L916.1 195.4 M910.5 199.1 L917.4 209.8 M915.5 197.2 L921.8 207.2 M848 231.6 L857.4 227.2 L863.6 228.5 L868.6 234.1 L891.8 234.5 M868.6 234.1 L874.2 235.4 L872.4 243.5 L874.9 247.2 L876.1 252.2 L881.8 254.1 L888.6 256 L885.5 262 M875.1 246 L875.8 251 L882 253.5 L888.9 256.6 L886.4 259.8 L885.8 264.8 L883.2 267.9 L878.2 269.1 L877 272.2 M879.5 272.2 L893.2 296 L905.1 291 M877 272.2 L879.5 270.4 L882 272.9 M900.1 304.1 L904.5 301 M844.5 289.8 L849.5 296 L854.5 294.8 L856.4 297.2 L867 297.2 L868.2 301 L867 308.5 L869.5 310.4 L873.2 307.2 L877 308.5 L887 309.8 L892 311 M892 343.5 L909.5 335 M862 279.8 L877 272.5 M557.1 262 L558.4 267.6 L567.8 271.4 L575.2 274.5 L584 278.2 L588.4 281.4 L590.2 287 L594 291.4 L594.6 295.8 L597.8 302.6 L604 303.2 L606.5 306.4 L611.5 308.9 L617.8 313.2 L617.1 323.2 L610.2 327 L605.9 330.1 L605.9 334.5 L609.6 338.2 L609 344.5 L604 349.5 L605.2 352 L605 358 M606.5 305.8 L654 294.8 M463.6 500.9 L471.1 504.6 L476.1 502.1 L481.8 507.1 L493 507.1 L496.1 509 L498 507.1 L504.2 506.5 L508 512.1 L513.6 509 L519.2 512.1 L523 509.6 L524.9 514 L528 507.8 L533 509.6 L536.1 507.8 L542.4 512.1 L549.2 506.5 L554.2 506.5 L556.8 504 L560.5 505.2 L564.2 502.1 L576 507.1 M568 454 L574.2 469 L576 485.2 M659.1 454 L661 456.5 L657.9 461.5 L656 465.2 L655.4 472.8 L652.2 477.8 L651 482.8 L648.5 487.8 L647.9 494 L649.8 499 L652.9 504 L653.5 509 L656 514 L659.1 519 L662.2 522.8 L659.8 529 L657.2 535.2 L654.8 541.5 L654.8 550 M593.5 519 L652.9 508.4 M576 476.5 L580.4 507.8 L590.4 507.8 L593.5 519 L597.2 542.8 L603.5 546.5 L604.1 550 M576 507.1 L581 509 M661 460.2 L691 454 M654.8 555 L696 546 L697.9 552.8 M752 349.1 L757 347.9 L761.4 348.5 L767 342.9 L772 346 L777 347.2 L780.8 344.8 L780.1 339.8 L778.9 335.4 L781.4 331.6 L785.1 332.2 L783.2 328.5 L783.9 326 M777 347.2 L777 351 L780.8 355.4 L787 359.1 L794.5 361 L789.5 368.5 L785.8 373.5 L784.5 378.5 L782 382.2 L778.9 387.2 L772.6 391 M794.5 361 L798.2 363.5 L802 364.8 L805.8 364.1 L808.2 360.4 L813.2 361 L817 356 L822 352.2 L825.8 348.5 L824.5 344.8 L825.8 333.5 L825.8 326 M752 398.5 L772.6 391 L880 348.5 M810.1 379.8 L811.4 382.9 L808.2 386 L807 390.4 L802 391 L798.2 396 L795.8 398.5 L793.2 399.8 L793.2 403.5 L788.2 406 L784.5 411 L778.9 414.1 L777 422 M792 422 L809.5 411 L834.5 402.2 L838.2 402.9 L843.9 407.2 L864.5 398.5 L880 404.1 M752 438.9 L776.4 478.9 L783.2 484.5 L785.1 489.5 L788.2 490.1 L786.4 495.8 L786.4 500.8 L789.5 504.5 L792 512 L795.8 518 M752 435.8 L773.9 427.6 L794.5 422 M796.4 422 L795.8 427.6 L801.4 429.5 L807 428.9 L818.2 437.6 L824.5 438.9 L834.5 442 L838.2 446.4 L844.5 448.9 L848.2 449.5 L854.5 456.4 L859.5 457.6 L865.1 465.1 L870.1 465.8 M819.5 518 L858.9 507 L862 511.4 L864.5 508.2 L860.8 499.5 L872 497.6 M773.2 422 L774.5 427 M65 212.2 L73.8 215.5 L79.5 219.8 L80.5 229.8 L86.2 233.5 L95 233 L103.8 237.2 L116.2 238.5 L128 237.2 L139 237.2 L171.5 244 M171.5 244 L177 252.2 L171.5 259.8 L165.2 268.5 L159 276 L163.5 279.8 L161.5 283.5 M198.5 188.5 L194 206 L196.5 211 L197.8 218.5 L209 233.5 L215.2 238.5 L211.5 243.5 L209.5 252.2 L207.8 256 L210.2 260.5 L216.5 258 L220.2 266 L224 276 L229 286.5 L239 284.8 L249 285.5 L256 282.2 L259.5 286 M475 195.5 L478 211 L483.8 219.8 L486.2 233.5 L490 243.5 L493.8 251 L492.5 254.8 L491.2 261 L496.2 264.8 L498.8 271 L504.5 303 L502.5 308.5 L505.5 313.5 L503.8 319.8 L506.2 323.5 L512.5 331 L517.5 341 L521.2 348.5 L523.8 358 M378 323.5 L470 318 L480 321.5 L490 318 L500 319.8 L506.2 323.5 M557.5 228.5 L560 239.8 L553.8 247.2 L553 252.2 L557.5 254.8 L558.8 266 L567.5 271 L576 274.8 M164 479.8 L166.5 456 L174 456 L176.5 459.8 L180.2 456 L183.5 439.8 M164 479.8 L165.2 488.5 L171.5 498 L161.5 503.5 L160.2 511 L154 514.8 L154 518 M508.8 326 L517.5 337.2 L520 346 L525 358.5 L528.8 363.5 L535 373.5 L545 376 L543.8 382.2 L553.8 389.8 L557.5 406 L562.5 434.8 L568.3 454 M604 348.5 L606 358.5 L626 376 L628.5 379.8 L637.2 379.8 L638.5 393.5 L651 398.5 L658.5 403.5 L661 411 L664.8 413.5 L668.5 412.2 L668.5 422.2 L663.5 424.8 L663.5 436 L658.5 453.5 M669.8 326 L681 358.5 L686 372.2 L682.2 388.5 L683.5 398.5 L678.5 407.2 L668.5 408.5 L664.8 413.5 M682.2 388.5 L691 386 L699.8 386 L702.2 381 L708.5 379.8 L711 374.8 L718.5 374.8 L721 367.2 L724.8 359.8 L733.5 353.5 L732.2 347.2 L736 346 L746 349.8 L752 349.8 M722.2 326 L732.2 347.2 M668.5 422.2 L691 416 L692.2 413.5 L752 397 M576 443.5 L652.2 428.5 L656 436 L651 440.5 L663.5 436 M686.6 454 L701 450.2 L751 436 L752 435.7 M702.2 451 L702.9 454 M704 459.5 L716 518 M751 437.2 L752 438.7 M799.2 307 L832 293 M816.8 300.8 L821.8 309.5 L829.2 297 L832 295.9 M832 323.4 L826.8 324.5 L826.6 326 M794.2 309.5 L788 322 L784 326 M880 347.1 L892.3 342 M880 403.5 L896.8 408.2 M164 479 L166.5 491.5 L171.5 497.8 L161.5 504 L159 511.5 L154 516.5 L154 522.8 L157.8 525.2 L157.8 529 L151.5 531.5 L144 540.2 L142.8 546.5 M164 479 L166.5 456.5 L174 456.5 L177.8 459 L180.2 454 M403.8 630.5 L407.5 625.5 L411.2 614.2 L420 610.5 L427.5 612.5 L442.5 612.5 L447.5 616.8 L460 625.5 L467.5 635.5 L472.5 644.2 L480 653 L482.5 658 M605.2 550 L609.8 555.5 L614.8 563 L612.2 578 L613.5 586.8 L612.2 593 M653.9 550 L654.8 555 L677.7 550 M696.7 550 L697.2 553 L707.2 563 M716.5 518 L729 551.8 M798.5 518 L741.5 534.2 L748.5 538 L749.8 545.5 M798.5 518 L802.2 522.5 L820.8 518 M797 518 L801.8 522.8 M768 526.5 L794.2 518.2 M801.8 522.8 L818.9 518 M275.2 576.5 L276 579 M144 640.5 L176.5 644.8 M276.5 576 L279 606 L275.2 621 L276.5 646 L264 648.5 L272.8 666 L271.5 673.5 L276.5 678.5 M257.8 692.2 L276.5 679.8 M276.5 678.5 L284 677.2 L289 683.5 L291.5 697.2 L301.5 699.8 L309 712.2 L310.2 736 M309 712.2 L320 711 M400 631.2 L385.5 659.5 L392.5 686.2 L401.2 696.2 L402 710 L398 716.2 L399.5 722.5 L403.8 727.5 L403.8 735 M318.8 711.2 L323.8 702.5 L325 695 L331.2 693 L332 686.2 L335.5 683.8 L352 692.5 L357 690.5 L371.2 695.5 L379.5 686.2 L392.5 687 M482.5 658.8 L473.8 657 L470 665.5 L461.2 669.5 L460.5 675 L467.5 676.2 L465 683.8 L452.5 693 L460 702.5 L467.5 712.5 L480 717.5 L478.8 720 L467.5 721.2 L465 725 L467.5 735 M482.5 660 L486.2 665 L490 677.5 L495 685 L505 693.8 L517.5 696.2 L520 707.5 L522.5 710 L510 719.5 L506.2 720.5 L507.5 727.5 L500 732.5 M416.2 735 L418.8 724.5 L428.8 723 L438.8 725 L443.8 735 M171.2 77.5 L168.8 87.5 L173.8 95 L178.8 97.5 L185 115 L192.5 120 L200 132.5 L212.5 150 L220 160 L222.5 175 L220 180 L226.2 190 M298.5 75 L286.5 198 M398 75 L413.5 200 M516 82.5 L489.8 116.2 L503.5 183.8 M699.5 82.5 L704.5 92.5 L712 107.5 L724.5 132.5 L737 155 L747 165 L759.5 171.2 L768 170 M510.8 88.8 L518.2 75 M768 170 L783 167.5 L793 170 L800.5 172.5 L813 167.5 L823 157.5 L835.5 156.2 M29.5 294.8 L46.3 299.9 L63.3 304.6 L80.3 309.2 L97.4 313.4 L114.5 317.4 L131.8 321.1 L149.1 324.6 L166.5 327.8 L184 330.7 L201.5 333.3 L219.1 335.6 L236.7 337.7 L254.3 339.5 M184.3 185.1 L171.9 235.8 L171.8 244.5 M161.2 281.2 L150.7 324.9 M261.6 277.7 L251.8 360.4 M261.6 277.7 L277.9 279.1 L294.1 280.3 L310.4 281.1 L326.7 281.8 L342.9 282.2 L359.2 282.3 L375.5 282.2 M100.1 314.1 L81.5 375.5 L163.6 480.7 M202.3 333.4 L183.2 439 M374.2 201.4 L377.2 365.4 M375.3 263 L392.4 262.6 L409.4 262 L426.4 261 L443.4 259.8 L460.4 258.2 L477.3 256.4 L494.2 254.4 M501.8 304 L519.8 301.5 L537.7 298.7 L555.6 295.6 L573.4 292.2 L591.1 288.4 M251.8 360.4 L269.7 362 L287.6 363.2 L305.5 364.2 L323.4 364.9 L341.3 365.4 L359.3 365.5 L377.2 365.4 L395.2 365 L413.1 364.3 M413.1 364.3 L418.2 450.1 M287.5 363.2 L280.8 448.9 L270.6 575.5 M183.2 439 L203 441.6 L222.9 443.9 L242.9 445.9 L262.9 447.6 L282.9 449 L303 450.1 L323 450.8 L343.1 451.3 L363.2 451.4 L383.3 451.2 L403.4 450.7 L423.4 449.8 L443.5 448.6 L463.5 447.2 L483.5 445.4 L503.4 443.3 L523.3 440.8 L543.2 438.1 L563 435 M414.3 385.5 L432 384.5 L449.6 383.3 L467.2 381.9 L484.8 380.1 L502.4 378.1 L519.9 375.9 L537.3 373.4 M376.4 323.5 L392.3 323.1 L408.1 322.6 L423.9 321.8 L439.7 320.7 L455.5 319.5 L471.3 318 M399.4 450.8 L399.9 461.7 L399.1 461.7 L402.4 562.4 M399.9 461.7 L414.7 461.2 L429.6 460.4 L444.5 459.6 L459.3 458.5 M459.3 458.5 L463.5 501.2 M402.4 562.4 L383 562.9 L363.6 563.1 L344.2 563 L324.8 562.6 M526.8 362.5 L544.8 359.7 L562.8 356.7 L580.7 353.4 L598.6 349.8 M553.9 390.3 L565.2 445.8 M565.2 445.8 L579 443.5 L592.8 441"/>
<path class="d" d="M569 219.8 L570.5 218.8 M577.8 211.2 L580.2 210.5 M588 207.9 L588.5 210.8 M654.5 239.8 L654 245 M654.5 255 L655 259.4 M657 271.9 L659.2 277.2 M664 284.8 L665.8 292.5 M667.4 306 L669.9 306.5"/>
</g>
<path d="M10 729.2 H960.35 V77" fill="none" stroke="#b4b4b4" stroke-width="0.95"/>
<path d="M10 730.3 H961.4 V77" fill="none" stroke="#000" stroke-width="1.3"/>
<g id="colorbar">
<rect x="963.6" y="620.87" width="59.19999999999993" height="43.33" fill="#000080"/>
<rect x="963.6" y="577.84" width="59.19999999999993" height="43.33" fill="#0000df"/>
<rect x="963.6" y="534.81" width="59.19999999999993" height="43.33" fill="#0028ff"/>
<rect x="963.6" y="491.78" width="59.19999999999993" height="43.33" fill="#007cff"/>
<rect x="963.6" y="448.75" width="59.19999999999993" height="43.33" fill="#00d4ff"/>
<rect x="963.6" y="405.72" width="59.19999999999993" height="43.33" fill="#36ffc1"/>
<rect x="963.6" y="362.68" width="59.19999999999993" height="43.33" fill="#7aff7d"/>
<rect x="963.6" y="319.65" width="59.19999999999993" height="43.33" fill="#beff39"/>
<rect x="963.6" y="276.62" width="59.19999999999993" height="43.33" fill="#ffe600"/>
<rect x="963.6" y="233.59" width="59.19999999999993" height="43.33" fill="#ff9800"/>
<rect x="963.6" y="190.56" width="59.19999999999993" height="43.33" fill="#ff4a00"/>
<rect x="963.6" y="147.53" width="59.19999999999993" height="43.33" fill="#e40000"/>
<rect x="963.6" y="104.50" width="59.19999999999993" height="43.33" fill="#800000"/>
<path d="M963.6 104.5 L993.2 76.3 L1022.8 104.5 Z" fill="#000"/>
<path d="M963.6 663.9 L993.2 690.6 L1022.8 663.9 Z" fill="#fff"/>
<path d="M963.6 104.5 L993.2 76.3 L1022.8 104.5 L1022.8 663.9 L993.2 690.6 L963.6 663.9 Z" fill="none" stroke="#000" stroke-width="1.2" stroke-linejoin="miter"/>
<path d="M1022.8 663.90 h4" stroke="#000" stroke-width="0.8"/>
<path d="M1022.8 620.87 h4" stroke="#000" stroke-width="0.8"/>
<path d="M1022.8 577.84 h4" stroke="#000" stroke-width="0.8"/>
<path d="M1022.8 534.81 h4" stroke="#000" stroke-width="0.8"/>
<path d="M1022.8 491.78 h4" stroke="#000" stroke-width="0.8"/>
<path d="M1022.8 448.75 h4" stroke="#000" stroke-width="0.8"/>
<path d="M1022.8 405.72 h4" stroke="#000" stroke-width="0.8"/>
<path d="M1022.8 362.68 h4" stroke="#000" stroke-width="0.8"/>
<path d="M1022.8 319.65 h4" stroke="#000" stroke-width="0.8"/>
<path d="M1022.8 276.62 h4" stroke="#000" stroke-width="0.8"/>
<path d="M1022.8 233.59 h4" stroke="#000" stroke-width="0.8"/>
<path d="M1022.8 190.56 h4" stroke="#000" stroke-width="0.8"/>
<path d="M1022.8 147.53 h4" stroke="#000" stroke-width="0.8"/>
<path d="M1022.8 104.50 h4" stroke="#000" stroke-width="0.8"/>
<text class="cbl" x="993.2" y="668.50">0.01</text>
<text class="cbl" x="993.2" y="625.47">0.1</text>
<text class="cbl" x="993.2" y="582.44">0.25</text>
<text class="cbl" x="993.2" y="539.41">0.5</text>
<text class="cbl" x="993.2" y="496.38">1</text>
<text class="cbl" x="993.2" y="453.35">2</text>
<text class="cbl" x="993.2" y="410.32">3</text>
<text class="cbl" x="993.2" y="367.28">5</text>
<text class="cbl" x="993.2" y="324.25">7</text>
<text class="cbl" x="993.2" y="281.22">10</text>
<text class="cbl" x="993.2" y="238.19">15</text>
<text class="cbl" x="993.2" y="195.16">20</text>
<text class="cbl" x="993.2" y="152.13">25</text>
<text class="cbl" x="993.2" y="109.10">30</text>
</g>
<g id="logo"><path d="M31.3 18.3 L102.6 18.3 L104.6 20.3 L103.6 24.7 L104.1 31.5 L109.9 33.0 L111.4 37.9 L115.8 40.8 L117.8 43.7 L116.8 49.1 L114.8 54.0 L109.9 55.5 L105.1 57.4 L104.6 59.9 L107.5 61.3 L107.0 65.7 L104.6 69.6 L101.6 71.1 L101.1 75.0 L98.2 75.0 L96.8 71.6 L40.1 71.1 L38.6 69.1 L39.1 62.8 L37.7 55.9 L36.2 49.1 L33.3 44.2 L31.8 37.4 L29.4 31.5 L31.3 29.6 L32.3 22.7Z" fill="#fff" stroke="#f00" stroke-width="1.1" stroke-linejoin="round"/><path d="M69.9 23.7 L75.8 23.7 L86.5 32.0 L92.4 32.3 L102.6 32.9 L102.6 34.3 L95.1 34.5 L95.3 51.1 L96.3 52.0 L92.8 52.0 L92.4 46.2 L88.5 41.3 L87.5 40.3 L91.4 37.6 L91.4 34.3 L76.7 34.0 L73.3 29.6Z" fill="#3465a4"/><path d="M49.9 40.3 L92.4 40.3" fill="none" stroke="#3465a4" stroke-width="1.1"/><path d="M84.5 46.2 L98.2 45.9" fill="none" stroke="#3465a4" stroke-width="0.7"/><path d="M47.4 37.9 L40.1 29.6 L39.1 27.1 L43.0 22.7 M40.1 29.6 L45.0 26.6" fill="none" stroke="#3465a4" stroke-width="0.6"/><circle cx="49.9" cy="40.3" r="3" fill="#3465a4"/><circle cx="84.5" cy="46.2" r="1.5" fill="#3465a4"/><circle cx="98.2" cy="45.7" r="1.3" fill="#3465a4"/><text class="iem" x="46.6" y="65.8">IEM</text></g>
<text class="title" x="133.4" y="46" textLength="781.3" lengthAdjust="spacing">Avg Number of Day 1 (@16z) Convective Slight Risks per Year</text>
<text class="sub" x="133" y="68.5" textLength="808.7" lengthAdjust="spacing">(2003 through 2016) based on unofficial archives maintained by the IEM, 0.01x0.01 analysis grid</text>
<text class="foot" x="9.55" y="744.7" textLength="459.3" lengthAdjust="spacing">Iowa Environmental Mesonet :: generated 10 April 2017 03:56 PM</text>
<text class="foot" x="1013.65" y="744.7" text-anchor="end" textLength="127.4" lengthAdjust="spacing">map units :: count</text>
</svg>
</body>
</html>
